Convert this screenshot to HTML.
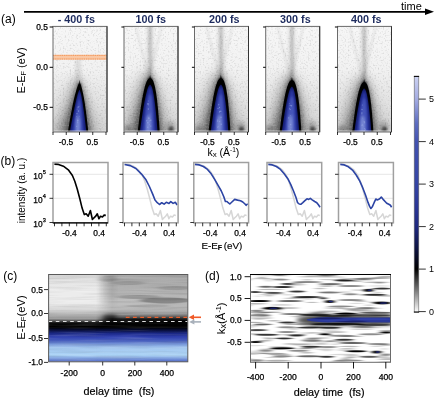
<!DOCTYPE html><html><head><meta charset="utf-8"><style>html,body{margin:0;padding:0;background:#fff;overflow:hidden}svg{display:block;opacity:0.999}</style></head><body><svg width="439" height="399" viewBox="0 0 439 399" font-family="'Liberation Sans', sans-serif">
<defs><filter color-interpolation-filters="sRGB" id="b6" x="-50%" y="-50%" width="200%" height="200%"><feGaussianBlur stdDeviation="6"/></filter>
<filter color-interpolation-filters="sRGB" id="b4" x="-50%" y="-50%" width="200%" height="200%"><feGaussianBlur stdDeviation="4"/></filter>
<filter color-interpolation-filters="sRGB" id="b2" x="-50%" y="-50%" width="200%" height="200%"><feGaussianBlur stdDeviation="2"/></filter>
<filter color-interpolation-filters="sRGB" id="b1" x="-50%" y="-50%" width="200%" height="200%"><feGaussianBlur stdDeviation="0.8"/></filter>
<filter color-interpolation-filters="sRGB" id="b05" x="-50%" y="-50%" width="200%" height="200%"><feGaussianBlur stdDeviation="0.5"/></filter>
<filter color-interpolation-filters="sRGB" id="bh" x="-50%" y="-50%" width="200%" height="200%"><feGaussianBlur stdDeviation="3 0.6"/></filter>
<filter color-interpolation-filters="sRGB" id="bh2" x="-50%" y="-50%" width="200%" height="200%"><feGaussianBlur stdDeviation="2.5 0.7"/></filter>
<linearGradient id="vdark" x1="0" x2="0" y1="0" y2="1"><stop offset="0" stop-color="#000" stop-opacity="0"/><stop offset="0.4" stop-color="#000" stop-opacity="0.02"/><stop offset="0.7" stop-color="#000" stop-opacity="0.08"/><stop offset="1" stop-color="#000" stop-opacity="0.15"/></linearGradient>
<filter color-interpolation-filters="sRGB" id="spk0" x="0" y="0" width="100%" height="100%"><feTurbulence type="fractalNoise" baseFrequency="0.6" numOctaves="1" seed="3"/><feColorMatrix type="matrix" values="0 0 0 0 0  0 0 0 0 0  0 0 0 0 0  -0.42 0 0 0 0.2"/></filter>
<filter color-interpolation-filters="sRGB" id="spkw0" x="0" y="0" width="100%" height="100%"><feTurbulence type="fractalNoise" baseFrequency="0.6" numOctaves="1" seed="5"/><feColorMatrix type="matrix" values="0 0 0 0 1  0 0 0 0 1  0 0 0 0 1  0.45 0 0 0 -0.21"/></filter>
<filter color-interpolation-filters="sRGB" id="spk1" x="0" y="0" width="100%" height="100%"><feTurbulence type="fractalNoise" baseFrequency="0.6" numOctaves="1" seed="10"/><feColorMatrix type="matrix" values="0 0 0 0 0  0 0 0 0 0  0 0 0 0 0  -0.42 0 0 0 0.2"/></filter>
<filter color-interpolation-filters="sRGB" id="spkw1" x="0" y="0" width="100%" height="100%"><feTurbulence type="fractalNoise" baseFrequency="0.6" numOctaves="1" seed="16"/><feColorMatrix type="matrix" values="0 0 0 0 1  0 0 0 0 1  0 0 0 0 1  0.45 0 0 0 -0.21"/></filter>
<filter color-interpolation-filters="sRGB" id="spk2" x="0" y="0" width="100%" height="100%"><feTurbulence type="fractalNoise" baseFrequency="0.6" numOctaves="1" seed="17"/><feColorMatrix type="matrix" values="0 0 0 0 0  0 0 0 0 0  0 0 0 0 0  -0.42 0 0 0 0.2"/></filter>
<filter color-interpolation-filters="sRGB" id="spkw2" x="0" y="0" width="100%" height="100%"><feTurbulence type="fractalNoise" baseFrequency="0.6" numOctaves="1" seed="27"/><feColorMatrix type="matrix" values="0 0 0 0 1  0 0 0 0 1  0 0 0 0 1  0.45 0 0 0 -0.21"/></filter>
<filter color-interpolation-filters="sRGB" id="strk" x="0" y="0" width="100%" height="100%"><feTurbulence type="fractalNoise" baseFrequency="0.02 0.45" numOctaves="2" seed="9"/><feColorMatrix type="matrix" values="0 0 0 0 0  0 0 0 0 0  0 0 0 0 0  -2.5 0 0 0 1.45"/></filter>
<filter color-interpolation-filters="sRGB" id="strkw" x="0" y="0" width="100%" height="100%"><feTurbulence type="fractalNoise" baseFrequency="0.02 0.45" numOctaves="2" seed="21"/><feColorMatrix type="matrix" values="0 0 0 0 1  0 0 0 0 1  0 0 0 0 1  2.5 0 0 0 -1.1"/></filter>
<linearGradient id="blueH" x1="0" x2="1" y1="0" y2="0"><stop offset="0" stop-color="#2430a0"/><stop offset="0.5" stop-color="#4a5ad0"/><stop offset="1" stop-color="#2430a0"/></linearGradient>
<clipPath id="ca0"><rect x="53" y="26.4" width="54" height="105.6"/></clipPath>
<clipPath id="ca1"><rect x="124" y="26.4" width="54" height="105.6"/></clipPath>
<clipPath id="ca2"><rect x="194.5" y="26.4" width="54" height="105.6"/></clipPath>
<clipPath id="ca3"><rect x="265.7" y="26.4" width="54" height="105.6"/></clipPath>
<clipPath id="ca4"><rect x="337.5" y="26.4" width="54" height="105.6"/></clipPath>
<linearGradient id="cbar" x1="0" x2="0" y1="0" y2="1"><stop offset="0" stop-color="#ccd2f2"/><stop offset="0.097" stop-color="#a4ace2"/><stop offset="0.2" stop-color="#5c6cc0"/><stop offset="0.277" stop-color="#4252b0"/><stop offset="0.457" stop-color="#3444a4"/><stop offset="0.55" stop-color="#2a3696"/><stop offset="0.637" stop-color="#1e2880"/><stop offset="0.727" stop-color="#0e1444"/><stop offset="0.817" stop-color="#000"/><stop offset="0.906" stop-color="#777"/><stop offset="1" stop-color="#fff"/></linearGradient>
<clipPath id="cc"><rect x="48.6" y="274.5" width="139.20000000000002" height="87.30000000000001"/></clipPath>
<linearGradient id="cLeft" x1="0" x2="0" y1="274.5" y2="361.8" gradientUnits="userSpaceOnUse"><stop offset="0" stop-color="#d4d4d4"/><stop offset="0.086" stop-color="#e4e4e4"/><stop offset="0.178" stop-color="#ececec"/><stop offset="0.33" stop-color="#ececec"/><stop offset="0.4" stop-color="#d8d8d8"/><stop offset="0.45" stop-color="#b8b8b8"/><stop offset="0.51" stop-color="#909090"/><stop offset="0.535" stop-color="#505050"/><stop offset="0.55" stop-color="#202020"/><stop offset="0.565" stop-color="#050505"/><stop offset="0.605" stop-color="#000"/><stop offset="0.64" stop-color="#0a1040"/><stop offset="0.675" stop-color="#1c2a8a"/><stop offset="0.715" stop-color="#3040b0"/><stop offset="0.765" stop-color="#4c64c0"/><stop offset="0.8" stop-color="#7c9cdc"/><stop offset="0.84" stop-color="#a4c8f0"/><stop offset="0.925" stop-color="#acd4f6"/><stop offset="0.96" stop-color="#80a0de"/><stop offset="1" stop-color="#5068c8"/></linearGradient>
<linearGradient id="cRight" x1="0" x2="0" y1="274.5" y2="361.8" gradientUnits="userSpaceOnUse"><stop offset="0" stop-color="#a8a8a8"/><stop offset="0.2" stop-color="#b2b2b2"/><stop offset="0.35" stop-color="#bcbcbc"/><stop offset="0.42" stop-color="#b0b0b0"/><stop offset="0.46" stop-color="#8a8a8a"/><stop offset="0.49" stop-color="#505050"/><stop offset="0.51" stop-color="#181818"/><stop offset="0.53" stop-color="#000"/><stop offset="0.544" stop-color="#050505"/><stop offset="0.605" stop-color="#000"/><stop offset="0.64" stop-color="#0a1040"/><stop offset="0.675" stop-color="#1c2a8a"/><stop offset="0.715" stop-color="#3040b0"/><stop offset="0.765" stop-color="#4c64c0"/><stop offset="0.8" stop-color="#7c9cdc"/><stop offset="0.84" stop-color="#a4c8f0"/><stop offset="0.925" stop-color="#acd4f6"/><stop offset="0.96" stop-color="#80a0de"/><stop offset="1" stop-color="#5068c8"/></linearGradient>
<linearGradient id="cMask" x1="96" x2="112" y1="0" y2="0" gradientUnits="userSpaceOnUse"><stop offset="0" stop-color="#000"/><stop offset="1" stop-color="#fff"/></linearGradient>
<mask id="cm"><rect x="48.6" y="274.5" width="139.20000000000002" height="87.30000000000001" fill="url(#cMask)"/></mask>
<clipPath id="cd"><rect x="250.5" y="274.5" width="140.0" height="87.80000000000001"/></clipPath></defs>
<rect width="439" height="399" fill="#fff"/>
<line x1="24" y1="11.9" x2="427" y2="11.9" stroke="#000" stroke-width="1.7"/>
<polygon points="425,8.6 434,11.8 425,15.1" fill="#000"/>
<text x="401" y="10" font-size="11">time</text>
<text x="1" y="22.5" font-size="12">(a)</text>
<text x="76.3" y="22.9" font-size="10.8" font-weight="bold" fill="#1d2b5e" text-anchor="middle">- 400 fs</text>
<g clip-path="url(#ca0)">
<rect x="53" y="26.4" width="54" height="105.6" fill="#f6f6f6"/>
<rect x="53" y="26.4" width="54" height="105.6" fill="url(#vdark)"/>
<rect x="76.1" y="59.400000000000006" width="4" height="24" fill="#000" opacity="0.14" filter="url(#b2)"/>
<path d="M49.53,140.00 L50.77,135.78 L52.00,131.68 L53.20,127.71 L54.40,123.86 L55.58,120.14 L56.74,116.55 L57.89,113.08 L59.03,109.74 L60.14,106.54 L61.24,103.47 L62.32,100.53 L63.38,97.72 L64.43,95.05 L65.45,92.53 L66.45,90.14 L67.43,87.89 L68.39,85.79 L69.32,83.84 L70.22,82.03 L71.10,80.38 L71.94,78.89 L72.76,77.56 L73.53,76.40 L74.27,75.41 L74.95,74.60 L75.57,73.98 L76.12,73.57 L76.50,73.40 L76.88,73.57 L77.40,73.98 L77.99,74.60 L78.64,75.41 L79.32,76.40 L80.04,77.56 L80.79,78.89 L81.57,80.38 L82.37,82.03 L83.18,83.84 L84.02,85.79 L84.88,87.89 L85.75,90.14 L86.64,92.53 L87.54,95.05 L88.46,97.72 L89.38,100.53 L90.32,103.47 L91.28,106.54 L92.24,109.74 L93.21,113.08 L94.19,116.55 L95.19,120.14 L96.19,123.86 L97.20,127.71 L98.22,131.68 L99.25,135.78 L100.28,140.00 Z" fill="#000" opacity="0.1" filter="url(#b6)"/>
<path d="M59.09,140.00 L59.96,136.10 L60.83,132.31 L61.69,128.63 L62.53,125.07 L63.36,121.63 L64.19,118.31 L65.00,115.10 L65.80,112.02 L66.58,109.05 L67.36,106.21 L68.12,103.49 L68.86,100.90 L69.59,98.43 L70.31,96.09 L71.01,93.88 L71.70,91.80 L72.37,89.86 L73.02,88.05 L73.65,86.39 L74.26,84.86 L74.85,83.48 L75.41,82.25 L75.95,81.17 L76.46,80.26 L76.93,79.51 L77.36,78.93 L77.74,78.55 L78.00,78.40 L78.26,78.55 L78.61,78.93 L79.01,79.51 L79.44,80.26 L79.90,81.17 L80.38,82.25 L80.88,83.48 L81.40,84.86 L81.93,86.39 L82.48,88.05 L83.03,89.86 L83.60,91.80 L84.18,93.88 L84.76,96.09 L85.36,98.43 L85.96,100.90 L86.57,103.49 L87.19,106.21 L87.82,109.05 L88.45,112.02 L89.09,115.10 L89.73,118.31 L90.38,121.63 L91.03,125.07 L91.69,128.63 L92.35,132.31 L93.02,136.10 L93.70,140.00 Z" fill="#000" opacity="0.28" filter="url(#b4)"/>
<path d="M63.50,140.00 L64.24,136.29 L64.96,132.68 L65.68,129.19 L66.38,125.80 L67.08,122.53 L67.76,119.36 L68.44,116.31 L69.10,113.38 L69.76,110.56 L70.40,107.85 L71.03,105.27 L71.65,102.80 L72.26,100.45 L72.86,98.23 L73.44,96.13 L74.01,94.15 L74.56,92.30 L75.10,90.58 L75.62,89.00 L76.13,87.55 L76.61,86.23 L77.08,85.06 L77.52,84.04 L77.94,83.16 L78.33,82.45 L78.68,81.91 L78.98,81.55 L79.20,81.40 L79.41,81.55 L79.69,81.91 L80.01,82.45 L80.36,83.16 L80.73,84.04 L81.12,85.06 L81.52,86.23 L81.93,87.55 L82.36,89.00 L82.79,90.58 L83.24,92.30 L83.69,94.15 L84.15,96.13 L84.61,98.23 L85.08,100.45 L85.56,102.80 L86.05,105.27 L86.53,107.85 L87.03,110.56 L87.53,113.38 L88.03,116.31 L88.54,119.36 L89.05,122.53 L89.56,125.80 L90.08,129.19 L90.60,132.68 L91.13,136.29 L91.65,140.00 Z" fill="#000" opacity="0.36" filter="url(#b2)"/>
<path d="M66.89999999999999,134 L75.1,101.4 L55.89999999999999,134 Z" fill="#000" opacity="0.14" filter="url(#b4)"/>
<rect x="53" y="26.4" width="54" height="105.6" filter="url(#spk0)"/>
<rect x="53" y="26.4" width="54" height="105.6" filter="url(#spkw0)"/>
<path d="M66.66,140.00 L67.21,136.41 L67.75,132.93 L68.29,129.56 L68.83,126.29 L69.35,123.12 L69.88,120.07 L70.40,117.12 L70.91,114.29 L71.42,111.56 L71.92,108.95 L72.41,106.45 L72.90,104.07 L73.38,101.80 L73.86,99.65 L74.33,97.62 L74.79,95.72 L75.24,93.93 L75.69,92.27 L76.13,90.74 L76.56,89.34 L76.98,88.07 L77.39,86.94 L77.79,85.95 L78.17,85.10 L78.54,84.42 L78.90,83.89 L79.22,83.54 L79.50,83.40 L79.77,83.54 L80.08,83.89 L80.40,84.42 L80.73,85.10 L81.07,85.95 L81.41,86.94 L81.75,88.07 L82.10,89.34 L82.45,90.74 L82.80,92.27 L83.15,93.93 L83.50,95.72 L83.85,97.62 L84.20,99.65 L84.56,101.80 L84.91,104.07 L85.26,106.45 L85.61,108.95 L85.96,111.56 L86.31,114.29 L86.66,117.12 L87.01,120.07 L87.36,123.12 L87.70,126.29 L88.05,129.56 L88.39,132.93 L88.74,136.41 L89.08,140.00 Z" fill="#000" filter="url(#b05)"/>
<path d="M68.37,140.00 L68.94,136.81 L69.49,133.71 L70.04,130.70 L70.57,127.79 L71.10,124.97 L71.62,122.25 L72.12,119.63 L72.62,117.10 L73.10,114.68 L73.58,112.35 L74.04,110.13 L74.49,108.01 L74.93,105.99 L75.36,104.07 L75.77,102.27 L76.17,100.57 L76.55,98.98 L76.92,97.50 L77.28,96.13 L77.62,94.89 L77.94,93.76 L78.25,92.75 L78.53,91.87 L78.79,91.12 L79.02,90.50 L79.23,90.04 L79.40,89.73 L79.50,89.60 L79.60,89.73 L79.74,90.04 L79.92,90.50 L80.11,91.12 L80.32,91.87 L80.55,92.75 L80.78,93.76 L81.03,94.89 L81.29,96.13 L81.55,97.50 L81.83,98.98 L82.11,100.57 L82.40,102.27 L82.69,104.07 L82.99,105.99 L83.29,108.01 L83.60,110.13 L83.92,112.35 L84.24,114.68 L84.57,117.10 L84.89,119.63 L85.23,122.25 L85.56,124.97 L85.90,127.79 L86.25,130.70 L86.60,133.71 L86.95,136.81 L87.30,140.00 Z" fill="#141c70" filter="url(#b05)"/>
<path d="M70.57,140.00 L71.03,136.98 L71.48,134.06 L71.92,131.22 L72.36,128.47 L72.78,125.81 L73.20,123.24 L73.61,120.76 L74.01,118.38 L74.40,116.09 L74.78,113.89 L75.15,111.79 L75.52,109.78 L75.87,107.88 L76.21,106.07 L76.54,104.36 L76.86,102.76 L77.17,101.26 L77.46,99.86 L77.75,98.57 L78.02,97.39 L78.27,96.33 L78.51,95.37 L78.74,94.54 L78.94,93.83 L79.13,93.25 L79.29,92.81 L79.42,92.52 L79.50,92.40 L79.57,92.52 L79.68,92.81 L79.81,93.25 L79.96,93.83 L80.11,94.54 L80.28,95.37 L80.45,96.33 L80.63,97.39 L80.82,98.57 L81.01,99.86 L81.21,101.26 L81.41,102.76 L81.61,104.36 L81.82,106.07 L82.04,107.88 L82.26,109.78 L82.48,111.79 L82.70,113.89 L82.93,116.09 L83.15,118.38 L83.39,120.76 L83.62,123.24 L83.86,125.81 L84.09,128.47 L84.33,131.22 L84.57,134.06 L84.82,136.98 L85.06,140.00 Z" fill="#2c39a4" filter="url(#b1)"/>
<path d="M72.98,140.00 L73.30,137.43 L73.62,134.93 L73.93,132.51 L74.24,130.16 L74.55,127.89 L74.84,125.70 L75.13,123.59 L75.42,121.56 L75.70,119.60 L75.97,117.73 L76.24,115.94 L76.50,114.23 L76.76,112.60 L77.00,111.06 L77.24,109.60 L77.48,108.23 L77.70,106.95 L77.92,105.76 L78.13,104.66 L78.33,103.66 L78.52,102.75 L78.70,101.94 L78.88,101.23 L79.04,100.62 L79.18,100.13 L79.31,99.75 L79.42,99.50 L79.50,99.40 L79.57,99.50 L79.66,99.75 L79.76,100.13 L79.86,100.62 L79.97,101.23 L80.08,101.94 L80.19,102.75 L80.30,103.66 L80.42,104.66 L80.53,105.76 L80.65,106.95 L80.76,108.23 L80.88,109.60 L81.00,111.06 L81.11,112.60 L81.23,114.23 L81.34,115.94 L81.45,117.73 L81.57,119.60 L81.68,121.56 L81.79,123.59 L81.90,125.70 L82.01,127.89 L82.12,130.16 L82.22,132.51 L82.33,134.93 L82.43,137.43 L82.54,140.00 Z" fill="#4c5cbe" opacity="0.85" filter="url(#b1)"/>
<path d="M74.21,140.00 L74.49,138.57 L74.76,137.18 L75.03,135.83 L75.29,134.52 L75.54,133.26 L75.79,132.04 L76.04,130.87 L76.27,129.73 L76.51,128.65 L76.73,127.60 L76.95,126.61 L77.17,125.65 L77.37,124.75 L77.57,123.89 L77.77,123.08 L77.95,122.32 L78.13,121.60 L78.31,120.94 L78.47,120.33 L78.63,119.77 L78.78,119.26 L78.92,118.81 L79.05,118.42 L79.17,118.08 L79.27,117.81 L79.37,117.60 L79.45,117.46 L79.50,117.40 L79.54,117.46 L79.59,117.60 L79.65,117.81 L79.70,118.08 L79.76,118.42 L79.81,118.81 L79.87,119.26 L79.92,119.77 L79.97,120.33 L80.01,120.94 L80.06,121.60 L80.10,122.32 L80.14,123.08 L80.18,123.89 L80.22,124.75 L80.25,125.65 L80.28,126.61 L80.31,127.60 L80.34,128.65 L80.36,129.73 L80.38,130.87 L80.40,132.04 L80.42,133.26 L80.43,134.52 L80.44,135.83 L80.45,137.18 L80.45,138.57 L80.46,140.00 Z" fill="#7484d4" opacity="0.6" filter="url(#b1)"/>
<ellipse cx="77.6" cy="124" rx="2.2" ry="9" fill="#8e9ee0" opacity="0.55" filter="url(#b1)"/>
<path d="M77.9,86.4 L79.5,79.9 L81.1,86.4 Z" fill="#000" opacity="0.7" filter="url(#b05)"/>
<ellipse cx="79.5" cy="86.4" rx="1.4" ry="3" fill="#000" filter="url(#b1)"/>
<circle cx="77.0" cy="113.7" r="0.66" fill="#98a8e4" opacity="0.6"/>
<circle cx="78.2" cy="107.3" r="0.55" fill="#98a8e4" opacity="0.6"/>
<circle cx="78.1" cy="106.9" r="0.41" fill="#98a8e4" opacity="0.6"/>
<circle cx="76.7" cy="116.5" r="0.44" fill="#98a8e4" opacity="0.6"/>
<circle cx="79.2" cy="116.3" r="0.45" fill="#98a8e4" opacity="0.6"/>
<circle cx="78.5" cy="111.1" r="0.78" fill="#98a8e4" opacity="0.6"/>
<circle cx="77.7" cy="120.2" r="0.79" fill="#98a8e4" opacity="0.6"/>
<circle cx="78.9" cy="106.6" r="0.52" fill="#98a8e4" opacity="0.6"/>
<circle cx="77.1" cy="109.1" r="0.52" fill="#98a8e4" opacity="0.6"/>
<circle cx="76.7" cy="126.3" r="0.63" fill="#98a8e4" opacity="0.6"/>
<circle cx="77.6" cy="121.8" r="0.62" fill="#98a8e4" opacity="0.6"/>
<circle cx="77.1" cy="107.0" r="0.48" fill="#98a8e4" opacity="0.6"/>
<circle cx="77.8" cy="122.8" r="0.53" fill="#98a8e4" opacity="0.6"/>
<circle cx="77.9" cy="120.4" r="0.52" fill="#98a8e4" opacity="0.6"/>
<rect x="53" y="54.8" width="54" height="4.8" fill="#f8b88c"/>
<rect x="53" y="55.9" width="54" height="2.6" fill="#fac8a4"/>
<line x1="53" y1="55.4" x2="107" y2="55.4" stroke="#f29a60" stroke-width="1" stroke-dasharray="1.2 1"/>
<line x1="53" y1="59.0" x2="107" y2="59.0" stroke="#f29a60" stroke-width="1" stroke-dasharray="1.2 1"/>
<line x1="53" y1="131.1" x2="107" y2="131.1" stroke="#e8e8e8" stroke-width="0.9"/>
</g>
<rect x="53" y="26.4" width="54" height="105.6" fill="none" stroke="#6a6a6a" stroke-width="1"/>
<line x1="107" y1="26.4" x2="107" y2="132" stroke="#333" stroke-width="1"/>
<line x1="49.6" y1="27.0" x2="53" y2="27.0" stroke="#000" stroke-width="1"/>
<line x1="49.6" y1="67.3" x2="53" y2="67.3" stroke="#000" stroke-width="1"/>
<line x1="49.6" y1="107.3" x2="53" y2="107.3" stroke="#000" stroke-width="1"/>
<line x1="53.0" y1="132" x2="53.0" y2="135" stroke="#000" stroke-width="0.8"/>
<line x1="66.25" y1="132" x2="66.25" y2="135" stroke="#000" stroke-width="0.8"/>
<line x1="79.5" y1="132" x2="79.5" y2="135" stroke="#000" stroke-width="0.8"/>
<line x1="92.75" y1="132" x2="92.75" y2="135" stroke="#000" stroke-width="0.8"/>
<line x1="106.0" y1="132" x2="106.0" y2="135" stroke="#000" stroke-width="0.8"/>
<text x="66.0" y="144.8" font-size="8.4" stroke="#000" stroke-width="0.25" text-anchor="middle">-0.5</text>
<text x="92.4" y="144.8" font-size="8.4" stroke="#000" stroke-width="0.25" text-anchor="middle">0.5</text>
<text x="150.8" y="22.9" font-size="10.8" font-weight="bold" fill="#1d2b5e" text-anchor="middle">100 fs</text>
<g clip-path="url(#ca1)">
<rect x="124" y="26.4" width="54" height="105.6" fill="#f6f6f6"/>
<rect x="124" y="26.4" width="54" height="105.6" fill="url(#vdark)"/>
<rect x="147.1" y="21.4" width="6" height="56.9" fill="#000" opacity="0.1" filter="url(#b2)"/>
<rect x="148.5" y="21.4" width="3.2" height="56.9" fill="#000" opacity="0.14" filter="url(#b1)"/>
<path d="M148.7,78.3 L135.7,26.4 M148.7,78.3 L161.7,26.4" stroke="#000" stroke-width="2.5" opacity="0.06" filter="url(#b1)"/>
<path d="M120.06,140.00 L120.98,135.46 L121.90,131.05 L122.82,126.77 L123.74,122.63 L124.66,118.62 L125.58,114.75 L126.51,111.02 L127.43,107.43 L128.35,103.98 L129.28,100.67 L130.21,97.50 L131.14,94.48 L132.07,91.61 L133.00,88.89 L133.94,86.32 L134.88,83.90 L135.82,81.64 L136.77,79.54 L137.73,77.60 L138.69,75.82 L139.66,74.21 L140.64,72.78 L141.63,71.53 L142.63,70.46 L143.66,69.59 L144.72,68.92 L145.83,68.48 L147.10,68.30 L148.37,68.48 L149.45,68.92 L150.48,69.59 L151.47,70.46 L152.43,71.53 L153.37,72.78 L154.28,74.21 L155.18,75.82 L156.06,77.60 L156.93,79.54 L157.79,81.64 L158.63,83.90 L159.47,86.32 L160.29,88.89 L161.11,91.61 L161.91,94.48 L162.71,97.50 L163.50,100.67 L164.28,103.98 L165.05,107.43 L165.82,111.02 L166.57,114.75 L167.33,118.62 L168.07,122.63 L168.81,126.77 L169.54,131.05 L170.27,135.46 L170.99,140.00 Z" fill="#000" opacity="0.1" filter="url(#b6)"/>
<path d="M129.42,140.00 L130.09,135.77 L130.75,131.67 L131.42,127.69 L132.08,123.84 L132.75,120.11 L133.41,116.51 L134.08,113.04 L134.74,109.70 L135.40,106.49 L136.06,103.41 L136.73,100.47 L137.39,97.66 L138.05,94.99 L138.72,92.45 L139.38,90.06 L140.05,87.81 L140.72,85.71 L141.39,83.75 L142.06,81.95 L142.74,80.30 L143.42,78.80 L144.10,77.47 L144.80,76.30 L145.50,75.31 L146.22,74.50 L146.95,73.88 L147.72,73.47 L148.60,73.30 L149.47,73.47 L150.22,73.88 L150.93,74.50 L151.60,75.31 L152.26,76.30 L152.90,77.47 L153.52,78.80 L154.13,80.30 L154.73,81.95 L155.31,83.75 L155.89,85.71 L156.46,87.81 L157.02,90.06 L157.57,92.45 L158.11,94.99 L158.65,97.66 L159.18,100.47 L159.70,103.41 L160.22,106.49 L160.72,109.70 L161.23,113.04 L161.73,116.51 L162.22,120.11 L162.70,123.84 L163.19,127.69 L163.66,131.67 L164.13,135.77 L164.60,140.00 Z" fill="#000" opacity="0.28" filter="url(#b4)"/>
<path d="M133.76,140.00 L134.33,135.96 L134.89,132.05 L135.46,128.25 L136.02,124.57 L136.58,121.01 L137.14,117.57 L137.70,114.25 L138.26,111.06 L138.82,108.00 L139.38,105.06 L139.93,102.25 L140.49,99.56 L141.05,97.01 L141.60,94.59 L142.16,92.31 L142.72,90.16 L143.28,88.15 L143.83,86.28 L144.39,84.56 L144.96,82.98 L145.52,81.55 L146.09,80.28 L146.67,79.17 L147.25,78.22 L147.84,77.44 L148.44,76.85 L149.08,76.46 L149.80,76.30 L150.52,76.46 L151.13,76.85 L151.71,77.44 L152.26,78.22 L152.79,79.17 L153.31,80.28 L153.81,81.55 L154.31,82.98 L154.79,84.56 L155.26,86.28 L155.73,88.15 L156.19,90.16 L156.64,92.31 L157.08,94.59 L157.51,97.01 L157.94,99.56 L158.36,102.25 L158.78,105.06 L159.19,108.00 L159.59,111.06 L159.99,114.25 L160.38,117.57 L160.77,121.01 L161.15,124.57 L161.53,128.25 L161.90,132.05 L162.27,135.96 L162.64,140.00 Z" fill="#000" opacity="0.36" filter="url(#b2)"/>
<path d="M136.7,134 L145.7,96.3 L125.69999999999999,134 Z" fill="#000" opacity="0.14" filter="url(#b4)"/>
<rect x="124" y="26.4" width="54" height="105.6" filter="url(#spk1)"/>
<rect x="124" y="26.4" width="54" height="105.6" filter="url(#spkw1)"/>
<path d="M136.83,140.00 L137.25,136.09 L137.67,132.29 L138.09,128.61 L138.50,125.05 L138.92,121.60 L139.34,118.27 L139.76,115.06 L140.18,111.97 L140.60,109.00 L141.02,106.15 L141.45,103.43 L141.87,100.83 L142.30,98.36 L142.73,96.02 L143.17,93.81 L143.60,91.73 L144.05,89.78 L144.49,87.97 L144.95,86.30 L145.41,84.77 L145.88,83.39 L146.36,82.16 L146.86,81.08 L147.37,80.16 L147.92,79.41 L148.50,78.83 L149.16,78.45 L150.10,78.30 L151.04,78.45 L151.67,78.83 L152.23,79.41 L152.73,80.16 L153.20,81.08 L153.64,82.16 L154.06,83.39 L154.45,84.77 L154.84,86.30 L155.20,87.97 L155.55,89.78 L155.90,91.73 L156.22,93.81 L156.54,96.02 L156.85,98.36 L157.15,100.83 L157.44,103.43 L157.72,106.15 L158.00,109.00 L158.26,111.97 L158.52,115.06 L158.78,118.27 L159.02,121.60 L159.26,125.05 L159.49,128.61 L159.72,132.29 L159.94,136.09 L160.15,140.00 Z" fill="#000" filter="url(#b05)"/>
<path d="M138.81,140.00 L139.26,136.48 L139.71,133.07 L140.15,129.76 L140.59,126.55 L141.03,123.45 L141.47,120.46 L141.90,117.57 L142.33,114.79 L142.75,112.12 L143.18,109.56 L143.59,107.11 L144.01,104.77 L144.42,102.55 L144.83,100.44 L145.23,98.45 L145.63,96.58 L146.03,94.83 L146.42,93.20 L146.81,91.70 L147.20,90.32 L147.58,89.08 L147.95,87.97 L148.33,87.00 L148.69,86.17 L149.05,85.50 L149.41,84.98 L149.76,84.64 L150.10,84.50 L150.43,84.64 L150.76,84.98 L151.09,85.50 L151.41,86.17 L151.73,87.00 L152.04,87.97 L152.35,89.08 L152.66,90.32 L152.96,91.70 L153.26,93.20 L153.56,94.83 L153.85,96.58 L154.14,98.45 L154.43,100.44 L154.72,102.55 L155.00,104.77 L155.27,107.11 L155.55,109.56 L155.82,112.12 L156.09,114.79 L156.35,117.57 L156.61,120.46 L156.87,123.45 L157.13,126.55 L157.38,129.76 L157.63,133.07 L157.88,136.48 L158.12,140.00 Z" fill="#141c70" filter="url(#b05)"/>
<path d="M140.94,140.00 L141.31,136.66 L141.68,133.42 L142.05,130.28 L142.42,127.23 L142.78,124.29 L143.14,121.44 L143.50,118.70 L143.85,116.06 L144.20,113.52 L144.54,111.09 L144.89,108.77 L145.22,106.55 L145.56,104.44 L145.89,102.43 L146.22,100.54 L146.54,98.77 L146.86,97.10 L147.18,95.56 L147.49,94.13 L147.80,92.83 L148.11,91.65 L148.41,90.59 L148.70,89.67 L148.99,88.89 L149.28,88.25 L149.56,87.76 L149.83,87.43 L150.10,87.30 L150.36,87.43 L150.61,87.76 L150.86,88.25 L151.11,88.89 L151.35,89.67 L151.59,90.59 L151.82,91.65 L152.05,92.83 L152.28,94.13 L152.50,95.56 L152.72,97.10 L152.94,98.77 L153.15,100.54 L153.36,102.43 L153.57,104.44 L153.77,106.55 L153.97,108.77 L154.17,111.09 L154.36,113.52 L154.55,116.06 L154.74,118.70 L154.92,121.44 L155.10,124.29 L155.28,127.23 L155.45,130.28 L155.63,133.42 L155.80,136.66 L155.96,140.00 Z" fill="#2c39a4" filter="url(#b1)"/>
<path d="M143.28,140.00 L143.56,137.10 L143.83,134.29 L144.09,131.57 L144.36,128.93 L144.62,126.37 L144.88,123.91 L145.14,121.53 L145.39,119.24 L145.64,117.04 L145.89,114.93 L146.14,112.91 L146.39,110.99 L146.63,109.16 L146.87,107.42 L147.11,105.78 L147.34,104.24 L147.58,102.80 L147.81,101.46 L148.04,100.22 L148.26,99.09 L148.49,98.07 L148.71,97.16 L148.94,96.36 L149.16,95.68 L149.38,95.12 L149.61,94.70 L149.84,94.41 L150.10,94.30 L150.35,94.41 L150.56,94.70 L150.76,95.12 L150.94,95.68 L151.11,96.36 L151.27,97.16 L151.43,98.07 L151.58,99.09 L151.72,100.22 L151.86,101.46 L151.99,102.80 L152.12,104.24 L152.24,105.78 L152.36,107.42 L152.47,109.16 L152.57,110.99 L152.68,112.91 L152.77,114.93 L152.87,117.04 L152.96,119.24 L153.04,121.53 L153.12,123.91 L153.20,126.37 L153.27,128.93 L153.34,131.57 L153.40,134.29 L153.47,137.10 L153.52,140.00 Z" fill="#4c5cbe" opacity="0.85" filter="url(#b1)"/>
<path d="M144.75,140.00 L144.99,138.24 L145.22,136.54 L145.44,134.89 L145.67,133.29 L145.89,131.74 L146.10,130.25 L146.32,128.80 L146.53,127.42 L146.74,126.08 L146.94,124.81 L147.14,123.58 L147.34,122.42 L147.53,121.31 L147.72,120.25 L147.91,119.26 L148.10,118.33 L148.28,117.45 L148.45,116.64 L148.63,115.89 L148.80,115.21 L148.97,114.58 L149.13,114.03 L149.29,113.55 L149.45,113.13 L149.61,112.80 L149.77,112.54 L149.93,112.37 L150.10,112.30 L150.26,112.37 L150.40,112.54 L150.52,112.80 L150.63,113.13 L150.73,113.55 L150.82,114.03 L150.91,114.58 L150.99,115.21 L151.06,115.89 L151.13,116.64 L151.19,117.45 L151.25,118.33 L151.30,119.26 L151.35,120.25 L151.39,121.31 L151.42,122.42 L151.46,123.58 L151.48,124.81 L151.50,126.08 L151.52,127.42 L151.54,128.80 L151.54,130.25 L151.55,131.74 L151.55,133.29 L151.55,134.89 L151.54,136.54 L151.53,138.24 L151.51,140.00 Z" fill="#7484d4" opacity="0.6" filter="url(#b1)"/>
<ellipse cx="148.2" cy="124" rx="2.2" ry="9" fill="#8e9ee0" opacity="0.55" filter="url(#b1)"/>
<path d="M148.5,81.3 L150.1,74.8 L151.7,81.3 Z" fill="#000" opacity="0.7" filter="url(#b05)"/>
<ellipse cx="150.1" cy="81.3" rx="2.2" ry="3.5" fill="#000" filter="url(#b1)"/>
<circle cx="149.6" cy="124.7" r="0.50" fill="#98a8e4" opacity="0.6"/>
<circle cx="148.8" cy="117.9" r="0.75" fill="#98a8e4" opacity="0.6"/>
<circle cx="147.8" cy="122.7" r="0.79" fill="#98a8e4" opacity="0.6"/>
<circle cx="148.5" cy="103.9" r="0.70" fill="#98a8e4" opacity="0.6"/>
<circle cx="148.7" cy="105.0" r="0.42" fill="#98a8e4" opacity="0.6"/>
<circle cx="149.8" cy="120.8" r="0.63" fill="#98a8e4" opacity="0.6"/>
<circle cx="147.8" cy="127.2" r="0.68" fill="#98a8e4" opacity="0.6"/>
<circle cx="149.0" cy="118.5" r="0.58" fill="#98a8e4" opacity="0.6"/>
<circle cx="150.8" cy="126.1" r="0.59" fill="#98a8e4" opacity="0.6"/>
<circle cx="146.8" cy="120.7" r="0.68" fill="#98a8e4" opacity="0.6"/>
<circle cx="150.8" cy="120.2" r="0.73" fill="#98a8e4" opacity="0.6"/>
<circle cx="148.3" cy="109.0" r="0.67" fill="#98a8e4" opacity="0.6"/>
<circle cx="148.6" cy="101.0" r="0.47" fill="#98a8e4" opacity="0.6"/>
<circle cx="147.6" cy="103.9" r="0.71" fill="#98a8e4" opacity="0.6"/>
<ellipse cx="171" cy="129.5" rx="2.6" ry="3" fill="#000" opacity="0.55" filter="url(#b1)"/>
<ellipse cx="170.5" cy="127" rx="5" ry="6" fill="#000" opacity="0.2" filter="url(#b2)"/>
<ellipse cx="128" cy="129" rx="4" ry="3" fill="#000" opacity="0.3" filter="url(#b2)"/>
<line x1="124" y1="131.1" x2="178" y2="131.1" stroke="#e8e8e8" stroke-width="0.9"/>
</g>
<rect x="124" y="26.4" width="54" height="105.6" fill="none" stroke="#6a6a6a" stroke-width="1"/>
<line x1="178" y1="26.4" x2="178" y2="132" stroke="#333" stroke-width="1"/>
<line x1="121.4" y1="27.0" x2="124" y2="27.0" stroke="#000" stroke-width="1"/>
<line x1="121.4" y1="67.3" x2="124" y2="67.3" stroke="#000" stroke-width="1"/>
<line x1="121.4" y1="107.3" x2="124" y2="107.3" stroke="#000" stroke-width="1"/>
<line x1="124.0" y1="132" x2="124.0" y2="135" stroke="#000" stroke-width="0.8"/>
<line x1="137.25" y1="132" x2="137.25" y2="135" stroke="#000" stroke-width="0.8"/>
<line x1="150.5" y1="132" x2="150.5" y2="135" stroke="#000" stroke-width="0.8"/>
<line x1="163.75" y1="132" x2="163.75" y2="135" stroke="#000" stroke-width="0.8"/>
<line x1="177.0" y1="132" x2="177.0" y2="135" stroke="#000" stroke-width="0.8"/>
<text x="137.0" y="144.8" font-size="8.4" stroke="#000" stroke-width="0.25" text-anchor="middle">-0.5</text>
<text x="163.4" y="144.8" font-size="8.4" stroke="#000" stroke-width="0.25" text-anchor="middle">0.5</text>
<text x="224.3" y="22.9" font-size="10.8" font-weight="bold" fill="#1d2b5e" text-anchor="middle">200 fs</text>
<g clip-path="url(#ca2)">
<rect x="194.5" y="26.4" width="54" height="105.6" fill="#f6f6f6"/>
<rect x="194.5" y="26.4" width="54" height="105.6" fill="url(#vdark)"/>
<rect x="217.9" y="21.4" width="6" height="56.9" fill="#000" opacity="0.1" filter="url(#b2)"/>
<rect x="219.3" y="21.4" width="3.2" height="56.9" fill="#000" opacity="0.14" filter="url(#b1)"/>
<path d="M219.5,78.3 L206.5,26.4 M219.5,78.3 L232.5,26.4" stroke="#000" stroke-width="2.5" opacity="0.06" filter="url(#b1)"/>
<path d="M190.86,140.00 L191.78,135.46 L192.70,131.05 L193.62,126.77 L194.54,122.63 L195.46,118.62 L196.38,114.75 L197.31,111.02 L198.23,107.43 L199.15,103.98 L200.08,100.67 L201.01,97.50 L201.94,94.48 L202.87,91.61 L203.80,88.89 L204.74,86.32 L205.68,83.90 L206.62,81.64 L207.57,79.54 L208.53,77.60 L209.49,75.82 L210.46,74.21 L211.44,72.78 L212.43,71.53 L213.43,70.46 L214.46,69.59 L215.52,68.92 L216.63,68.48 L217.90,68.30 L219.17,68.48 L220.25,68.92 L221.28,69.59 L222.27,70.46 L223.23,71.53 L224.17,72.78 L225.08,74.21 L225.98,75.82 L226.86,77.60 L227.73,79.54 L228.59,81.64 L229.43,83.90 L230.27,86.32 L231.09,88.89 L231.91,91.61 L232.71,94.48 L233.51,97.50 L234.30,100.67 L235.08,103.98 L235.85,107.43 L236.62,111.02 L237.37,114.75 L238.13,118.62 L238.87,122.63 L239.61,126.77 L240.34,131.05 L241.07,135.46 L241.79,140.00 Z" fill="#000" opacity="0.1" filter="url(#b6)"/>
<path d="M200.22,140.00 L200.89,135.77 L201.55,131.67 L202.22,127.69 L202.88,123.84 L203.55,120.11 L204.21,116.51 L204.88,113.04 L205.54,109.70 L206.20,106.49 L206.86,103.41 L207.53,100.47 L208.19,97.66 L208.85,94.99 L209.52,92.45 L210.18,90.06 L210.85,87.81 L211.52,85.71 L212.19,83.75 L212.86,81.95 L213.54,80.30 L214.22,78.80 L214.90,77.47 L215.60,76.30 L216.30,75.31 L217.02,74.50 L217.75,73.88 L218.52,73.47 L219.40,73.30 L220.27,73.47 L221.02,73.88 L221.73,74.50 L222.40,75.31 L223.06,76.30 L223.70,77.47 L224.32,78.80 L224.93,80.30 L225.53,81.95 L226.11,83.75 L226.69,85.71 L227.26,87.81 L227.82,90.06 L228.37,92.45 L228.91,94.99 L229.45,97.66 L229.98,100.47 L230.50,103.41 L231.02,106.49 L231.52,109.70 L232.03,113.04 L232.53,116.51 L233.02,120.11 L233.50,123.84 L233.99,127.69 L234.46,131.67 L234.93,135.77 L235.40,140.00 Z" fill="#000" opacity="0.28" filter="url(#b4)"/>
<path d="M204.56,140.00 L205.13,135.96 L205.69,132.05 L206.26,128.25 L206.82,124.57 L207.38,121.01 L207.94,117.57 L208.50,114.25 L209.06,111.06 L209.62,108.00 L210.18,105.06 L210.73,102.25 L211.29,99.56 L211.85,97.01 L212.40,94.59 L212.96,92.31 L213.52,90.16 L214.08,88.15 L214.63,86.28 L215.19,84.56 L215.76,82.98 L216.32,81.55 L216.89,80.28 L217.47,79.17 L218.05,78.22 L218.64,77.44 L219.24,76.85 L219.88,76.46 L220.60,76.30 L221.32,76.46 L221.93,76.85 L222.51,77.44 L223.06,78.22 L223.59,79.17 L224.11,80.28 L224.61,81.55 L225.11,82.98 L225.59,84.56 L226.06,86.28 L226.53,88.15 L226.99,90.16 L227.44,92.31 L227.88,94.59 L228.31,97.01 L228.74,99.56 L229.16,102.25 L229.58,105.06 L229.99,108.00 L230.39,111.06 L230.79,114.25 L231.18,117.57 L231.57,121.01 L231.95,124.57 L232.33,128.25 L232.70,132.05 L233.07,135.96 L233.44,140.00 Z" fill="#000" opacity="0.36" filter="url(#b2)"/>
<path d="M207.5,134 L216.5,96.3 L196.5,134 Z" fill="#000" opacity="0.14" filter="url(#b4)"/>
<rect x="194.5" y="26.4" width="54" height="105.6" filter="url(#spk2)"/>
<rect x="194.5" y="26.4" width="54" height="105.6" filter="url(#spkw2)"/>
<path d="M207.63,140.00 L208.05,136.09 L208.47,132.29 L208.89,128.61 L209.30,125.05 L209.72,121.60 L210.14,118.27 L210.56,115.06 L210.98,111.97 L211.40,109.00 L211.82,106.15 L212.25,103.43 L212.67,100.83 L213.10,98.36 L213.53,96.02 L213.97,93.81 L214.40,91.73 L214.85,89.78 L215.29,87.97 L215.75,86.30 L216.21,84.77 L216.68,83.39 L217.16,82.16 L217.66,81.08 L218.17,80.16 L218.72,79.41 L219.30,78.83 L219.96,78.45 L220.90,78.30 L221.84,78.45 L222.47,78.83 L223.03,79.41 L223.53,80.16 L224.00,81.08 L224.44,82.16 L224.86,83.39 L225.25,84.77 L225.64,86.30 L226.00,87.97 L226.35,89.78 L226.70,91.73 L227.02,93.81 L227.34,96.02 L227.65,98.36 L227.95,100.83 L228.24,103.43 L228.52,106.15 L228.80,109.00 L229.06,111.97 L229.32,115.06 L229.58,118.27 L229.82,121.60 L230.06,125.05 L230.29,128.61 L230.52,132.29 L230.74,136.09 L230.95,140.00 Z" fill="#000" filter="url(#b05)"/>
<path d="M209.66,140.00 L210.11,136.48 L210.56,133.07 L211.00,129.76 L211.44,126.55 L211.88,123.45 L212.31,120.46 L212.74,117.57 L213.17,114.79 L213.59,112.12 L214.01,109.56 L214.43,107.11 L214.84,104.77 L215.25,102.55 L215.66,100.44 L216.06,98.45 L216.46,96.58 L216.85,94.83 L217.24,93.20 L217.63,91.70 L218.01,90.32 L218.39,89.08 L218.77,87.97 L219.14,87.00 L219.50,86.17 L219.86,85.50 L220.21,84.98 L220.56,84.64 L220.90,84.50 L221.23,84.64 L221.56,84.98 L221.88,85.50 L222.20,86.17 L222.52,87.00 L222.83,87.97 L223.14,89.08 L223.44,90.32 L223.75,91.70 L224.04,93.20 L224.34,94.83 L224.63,96.58 L224.92,98.45 L225.20,100.44 L225.49,102.55 L225.76,104.77 L226.04,107.11 L226.31,109.56 L226.58,112.12 L226.85,114.79 L227.11,117.57 L227.37,120.46 L227.63,123.45 L227.88,126.55 L228.13,129.76 L228.38,133.07 L228.62,136.48 L228.87,140.00 Z" fill="#141c70" filter="url(#b05)"/>
<path d="M211.79,140.00 L212.17,136.66 L212.54,133.42 L212.90,130.28 L213.27,127.23 L213.63,124.29 L213.98,121.44 L214.34,118.70 L214.69,116.06 L215.03,113.52 L215.38,111.09 L215.72,108.77 L216.06,106.55 L216.39,104.44 L216.72,102.43 L217.04,100.54 L217.37,98.77 L217.69,97.10 L218.00,95.56 L218.31,94.13 L218.62,92.83 L218.92,91.65 L219.22,90.59 L219.51,89.67 L219.80,88.89 L220.09,88.25 L220.36,87.76 L220.64,87.43 L220.90,87.30 L221.16,87.43 L221.41,87.76 L221.66,88.25 L221.90,88.89 L222.14,89.67 L222.38,90.59 L222.61,91.65 L222.84,92.83 L223.06,94.13 L223.28,95.56 L223.50,97.10 L223.72,98.77 L223.93,100.54 L224.13,102.43 L224.34,104.44 L224.54,106.55 L224.74,108.77 L224.93,111.09 L225.12,113.52 L225.31,116.06 L225.50,118.70 L225.68,121.44 L225.86,124.29 L226.03,127.23 L226.21,130.28 L226.38,133.42 L226.54,136.66 L226.71,140.00 Z" fill="#2c39a4" filter="url(#b1)"/>
<path d="M214.14,140.00 L214.41,137.10 L214.68,134.29 L214.94,131.57 L215.21,128.93 L215.47,126.37 L215.72,123.91 L215.98,121.53 L216.23,119.24 L216.48,117.04 L216.73,114.93 L216.98,112.91 L217.22,110.99 L217.46,109.16 L217.70,107.42 L217.93,105.78 L218.17,104.24 L218.40,102.80 L218.63,101.46 L218.86,100.22 L219.08,99.09 L219.31,98.07 L219.53,97.16 L219.75,96.36 L219.97,95.68 L220.19,95.12 L220.41,94.70 L220.64,94.41 L220.90,94.30 L221.15,94.41 L221.36,94.70 L221.55,95.12 L221.73,95.68 L221.90,96.36 L222.06,97.16 L222.21,98.07 L222.36,99.09 L222.50,100.22 L222.64,101.46 L222.77,102.80 L222.89,104.24 L223.01,105.78 L223.13,107.42 L223.24,109.16 L223.34,110.99 L223.44,112.91 L223.54,114.93 L223.63,117.04 L223.72,119.24 L223.80,121.53 L223.88,123.91 L223.95,126.37 L224.02,128.93 L224.09,131.57 L224.15,134.29 L224.21,137.10 L224.27,140.00 Z" fill="#4c5cbe" opacity="0.85" filter="url(#b1)"/>
<path d="M215.61,140.00 L215.84,138.24 L216.07,136.54 L216.30,134.89 L216.52,133.29 L216.74,131.74 L216.95,130.25 L217.16,128.80 L217.37,127.42 L217.58,126.08 L217.78,124.81 L217.98,123.58 L218.17,122.42 L218.37,121.31 L218.56,120.25 L218.74,119.26 L218.92,118.33 L219.10,117.45 L219.28,116.64 L219.45,115.89 L219.62,115.21 L219.78,114.58 L219.95,114.03 L220.11,113.55 L220.26,113.13 L220.42,112.80 L220.57,112.54 L220.73,112.37 L220.90,112.30 L221.06,112.37 L221.19,112.54 L221.31,112.80 L221.42,113.13 L221.52,113.55 L221.61,114.03 L221.69,114.58 L221.77,115.21 L221.84,115.89 L221.91,116.64 L221.97,117.45 L222.02,118.33 L222.07,119.26 L222.11,120.25 L222.15,121.31 L222.19,122.42 L222.22,123.58 L222.24,124.81 L222.26,126.08 L222.28,127.42 L222.29,128.80 L222.30,130.25 L222.30,131.74 L222.30,133.29 L222.29,134.89 L222.28,136.54 L222.27,138.24 L222.25,140.00 Z" fill="#7484d4" opacity="0.6" filter="url(#b1)"/>
<ellipse cx="219.0" cy="124" rx="2.2" ry="9" fill="#8e9ee0" opacity="0.55" filter="url(#b1)"/>
<path d="M219.3,81.3 L220.9,74.8 L222.5,81.3 Z" fill="#000" opacity="0.7" filter="url(#b05)"/>
<ellipse cx="220.9" cy="81.3" rx="2.2" ry="3.5" fill="#000" filter="url(#b1)"/>
<circle cx="218.8" cy="104.3" r="0.56" fill="#98a8e4" opacity="0.6"/>
<circle cx="217.5" cy="127.1" r="0.58" fill="#98a8e4" opacity="0.6"/>
<circle cx="221.0" cy="117.2" r="0.73" fill="#98a8e4" opacity="0.6"/>
<circle cx="218.4" cy="126.8" r="0.57" fill="#98a8e4" opacity="0.6"/>
<circle cx="220.8" cy="111.3" r="0.78" fill="#98a8e4" opacity="0.6"/>
<circle cx="218.6" cy="104.9" r="0.49" fill="#98a8e4" opacity="0.6"/>
<circle cx="219.5" cy="107.5" r="0.64" fill="#98a8e4" opacity="0.6"/>
<circle cx="218.0" cy="108.4" r="0.57" fill="#98a8e4" opacity="0.6"/>
<circle cx="219.7" cy="111.6" r="0.78" fill="#98a8e4" opacity="0.6"/>
<circle cx="219.6" cy="121.5" r="0.65" fill="#98a8e4" opacity="0.6"/>
<circle cx="217.6" cy="121.1" r="0.76" fill="#98a8e4" opacity="0.6"/>
<circle cx="221.2" cy="124.2" r="0.72" fill="#98a8e4" opacity="0.6"/>
<circle cx="219.2" cy="112.3" r="0.44" fill="#98a8e4" opacity="0.6"/>
<circle cx="217.7" cy="119.8" r="0.43" fill="#98a8e4" opacity="0.6"/>
<ellipse cx="241.5" cy="129.5" rx="2.6" ry="3" fill="#000" opacity="0.55" filter="url(#b1)"/>
<ellipse cx="241.0" cy="127" rx="5" ry="6" fill="#000" opacity="0.2" filter="url(#b2)"/>
<ellipse cx="198.5" cy="129" rx="4" ry="3" fill="#000" opacity="0.3" filter="url(#b2)"/>
<line x1="194.5" y1="131.1" x2="248.5" y2="131.1" stroke="#e8e8e8" stroke-width="0.9"/>
</g>
<rect x="194.5" y="26.4" width="54" height="105.6" fill="none" stroke="#6a6a6a" stroke-width="1"/>
<line x1="248.5" y1="26.4" x2="248.5" y2="132" stroke="#333" stroke-width="1"/>
<line x1="191.9" y1="27.0" x2="194.5" y2="27.0" stroke="#000" stroke-width="1"/>
<line x1="191.9" y1="67.3" x2="194.5" y2="67.3" stroke="#000" stroke-width="1"/>
<line x1="191.9" y1="107.3" x2="194.5" y2="107.3" stroke="#000" stroke-width="1"/>
<line x1="194.5" y1="132" x2="194.5" y2="135" stroke="#000" stroke-width="0.8"/>
<line x1="207.75" y1="132" x2="207.75" y2="135" stroke="#000" stroke-width="0.8"/>
<line x1="221.0" y1="132" x2="221.0" y2="135" stroke="#000" stroke-width="0.8"/>
<line x1="234.25" y1="132" x2="234.25" y2="135" stroke="#000" stroke-width="0.8"/>
<line x1="247.5" y1="132" x2="247.5" y2="135" stroke="#000" stroke-width="0.8"/>
<text x="207.5" y="144.8" font-size="8.4" stroke="#000" stroke-width="0.25" text-anchor="middle">-0.5</text>
<text x="233.9" y="144.8" font-size="8.4" stroke="#000" stroke-width="0.25" text-anchor="middle">0.5</text>
<text x="295.4" y="22.9" font-size="10.8" font-weight="bold" fill="#1d2b5e" text-anchor="middle">300 fs</text>
<g clip-path="url(#ca3)">
<rect x="265.7" y="26.4" width="54" height="105.6" fill="#f6f6f6"/>
<rect x="265.7" y="26.4" width="54" height="105.6" fill="url(#vdark)"/>
<rect x="288.9" y="21.4" width="6" height="58.9" fill="#000" opacity="0.1" filter="url(#b2)"/>
<rect x="290.29999999999995" y="21.4" width="3.2" height="58.9" fill="#000" opacity="0.14" filter="url(#b1)"/>
<path d="M290.5,80.3 L277.5,26.4 M290.5,80.3 L303.5,26.4" stroke="#000" stroke-width="2.5" opacity="0.06" filter="url(#b1)"/>
<path d="M261.92,140.00 L262.83,135.58 L263.75,131.30 L264.67,127.14 L265.59,123.11 L266.51,119.22 L267.43,115.46 L268.35,111.83 L269.27,108.34 L270.19,104.98 L271.12,101.77 L272.04,98.69 L272.97,95.75 L273.90,92.96 L274.83,90.32 L275.77,87.82 L276.71,85.47 L277.65,83.27 L278.60,81.22 L279.55,79.34 L280.51,77.61 L281.47,76.05 L282.45,74.66 L283.44,73.44 L284.44,72.40 L285.47,71.55 L286.52,70.90 L287.63,70.47 L288.90,70.30 L290.16,70.47 L291.25,70.90 L292.27,71.55 L293.26,72.40 L294.22,73.44 L295.15,74.66 L296.06,76.05 L296.96,77.61 L297.84,79.34 L298.71,81.22 L299.56,83.27 L300.41,85.47 L301.24,87.82 L302.06,90.32 L302.87,92.96 L303.67,95.75 L304.47,98.69 L305.25,101.77 L306.03,104.98 L306.80,108.34 L307.57,111.83 L308.32,115.46 L309.07,119.22 L309.81,123.11 L310.55,127.14 L311.28,131.30 L312.00,135.58 L312.72,140.00 Z" fill="#000" opacity="0.1" filter="url(#b6)"/>
<path d="M271.28,140.00 L271.95,135.90 L272.61,131.92 L273.28,128.06 L273.94,124.32 L274.60,120.71 L275.26,117.22 L275.93,113.85 L276.59,110.61 L277.25,107.49 L277.91,104.51 L278.57,101.65 L279.23,98.93 L279.89,96.34 L280.55,93.88 L281.22,91.56 L281.88,89.38 L282.55,87.34 L283.21,85.44 L283.89,83.69 L284.56,82.09 L285.24,80.64 L285.92,79.34 L286.61,78.21 L287.31,77.25 L288.02,76.46 L288.76,75.86 L289.52,75.46 L290.40,75.30 L291.27,75.46 L292.02,75.86 L292.72,76.46 L293.39,77.25 L294.04,78.21 L294.68,79.34 L295.30,80.64 L295.91,82.09 L296.50,83.69 L297.08,85.44 L297.66,87.34 L298.22,89.38 L298.78,91.56 L299.33,93.88 L299.87,96.34 L300.40,98.93 L300.93,101.65 L301.45,104.51 L301.96,107.49 L302.47,110.61 L302.97,113.85 L303.47,117.22 L303.96,120.71 L304.44,124.32 L304.92,128.06 L305.39,131.92 L305.86,135.90 L306.32,140.00 Z" fill="#000" opacity="0.28" filter="url(#b4)"/>
<path d="M275.63,140.00 L276.19,136.09 L276.76,132.29 L277.32,128.61 L277.88,125.05 L278.44,121.60 L279.00,118.27 L279.55,115.06 L280.11,111.97 L280.67,109.00 L281.22,106.15 L281.78,103.43 L282.33,100.83 L282.89,98.36 L283.44,96.02 L284.00,93.81 L284.55,91.73 L285.11,89.78 L285.66,87.97 L286.22,86.30 L286.78,84.77 L287.34,83.39 L287.91,82.16 L288.48,81.08 L289.06,80.16 L289.65,79.41 L290.25,78.83 L290.88,78.45 L291.60,78.30 L292.31,78.45 L292.92,78.83 L293.50,79.41 L294.04,80.16 L294.57,81.08 L295.09,82.16 L295.59,83.39 L296.08,84.77 L296.56,86.30 L297.03,87.97 L297.50,89.78 L297.95,91.73 L298.40,93.81 L298.84,96.02 L299.27,98.36 L299.69,100.83 L300.11,103.43 L300.52,106.15 L300.93,109.00 L301.33,111.97 L301.73,115.06 L302.12,118.27 L302.50,121.60 L302.88,125.05 L303.26,128.61 L303.63,132.29 L303.99,136.09 L304.35,140.00 Z" fill="#000" opacity="0.36" filter="url(#b2)"/>
<path d="M278.6,134 L287.5,98.3 L267.6,134 Z" fill="#000" opacity="0.14" filter="url(#b4)"/>
<rect x="265.7" y="26.4" width="54" height="105.6" filter="url(#spk0)"/>
<rect x="265.7" y="26.4" width="54" height="105.6" filter="url(#spkw0)"/>
<path d="M278.70,140.00 L279.12,136.22 L279.54,132.54 L279.95,128.98 L280.37,125.53 L280.79,122.20 L281.20,118.98 L281.62,115.87 L282.04,112.88 L282.46,110.01 L282.88,107.25 L283.30,104.62 L283.72,102.10 L284.15,99.71 L284.58,97.44 L285.01,95.30 L285.45,93.29 L285.89,91.41 L286.33,89.66 L286.78,88.04 L287.24,86.56 L287.71,85.22 L288.19,84.03 L288.68,82.99 L289.19,82.10 L289.73,81.37 L290.31,80.82 L290.96,80.45 L291.90,80.30 L292.83,80.45 L293.46,80.82 L294.01,81.37 L294.51,82.10 L294.98,82.99 L295.41,84.03 L295.83,85.22 L296.22,86.56 L296.60,88.04 L296.96,89.66 L297.31,91.41 L297.65,93.29 L297.98,95.30 L298.29,97.44 L298.60,99.71 L298.89,102.10 L299.18,104.62 L299.46,107.25 L299.73,110.01 L300.00,112.88 L300.25,115.87 L300.50,118.98 L300.74,122.20 L300.98,125.53 L301.21,128.98 L301.43,132.54 L301.65,136.22 L301.86,140.00 Z" fill="#000" filter="url(#b05)"/>
<path d="M280.73,140.00 L281.18,136.61 L281.62,133.32 L282.06,130.13 L282.50,127.04 L282.93,124.05 L283.36,121.16 L283.79,118.38 L284.22,115.70 L284.64,113.12 L285.05,110.65 L285.47,108.29 L285.88,106.04 L286.29,103.90 L286.69,101.86 L287.09,99.95 L287.49,98.14 L287.88,96.45 L288.27,94.88 L288.65,93.44 L289.03,92.11 L289.41,90.91 L289.78,89.84 L290.15,88.91 L290.51,88.11 L290.87,87.46 L291.22,86.96 L291.56,86.63 L291.90,86.50 L292.23,86.63 L292.55,86.96 L292.87,87.46 L293.19,88.11 L293.50,88.91 L293.81,89.84 L294.12,90.91 L294.42,92.11 L294.72,93.44 L295.02,94.88 L295.31,96.45 L295.60,98.14 L295.88,99.95 L296.16,101.86 L296.44,103.90 L296.72,106.04 L296.99,108.29 L297.26,110.65 L297.52,113.12 L297.79,115.70 L298.05,118.38 L298.30,121.16 L298.56,124.05 L298.81,127.04 L299.06,130.13 L299.30,133.32 L299.54,136.61 L299.78,140.00 Z" fill="#141c70" filter="url(#b05)"/>
<path d="M282.86,140.00 L283.23,136.79 L283.60,133.67 L283.96,130.64 L284.33,127.72 L284.68,124.88 L285.04,122.15 L285.39,119.51 L285.74,116.97 L286.08,114.53 L286.42,112.19 L286.76,109.95 L287.10,107.82 L287.43,105.78 L287.75,103.86 L288.08,102.04 L288.40,100.33 L288.71,98.73 L289.03,97.25 L289.33,95.87 L289.64,94.62 L289.94,93.48 L290.23,92.47 L290.53,91.58 L290.81,90.83 L291.09,90.21 L291.37,89.74 L291.64,89.43 L291.90,89.30 L292.15,89.43 L292.40,89.74 L292.65,90.21 L292.89,90.83 L293.12,91.58 L293.36,92.47 L293.59,93.48 L293.81,94.62 L294.03,95.87 L294.25,97.25 L294.47,98.73 L294.68,100.33 L294.89,102.04 L295.09,103.86 L295.29,105.78 L295.49,107.82 L295.68,109.95 L295.87,112.19 L296.06,114.53 L296.25,116.97 L296.43,119.51 L296.61,122.15 L296.78,124.88 L296.96,127.72 L297.12,130.64 L297.29,133.67 L297.45,136.79 L297.61,140.00 Z" fill="#2c39a4" filter="url(#b1)"/>
<path d="M285.21,140.00 L285.48,137.23 L285.74,134.54 L286.01,131.94 L286.27,129.41 L286.53,126.97 L286.78,124.61 L287.04,122.34 L287.29,120.15 L287.54,118.04 L287.78,116.03 L288.02,114.10 L288.27,112.26 L288.50,110.51 L288.74,108.85 L288.97,107.28 L289.20,105.81 L289.43,104.43 L289.66,103.15 L289.89,101.97 L290.11,100.88 L290.33,99.90 L290.55,99.03 L290.77,98.27 L290.98,97.62 L291.20,97.08 L291.42,96.68 L291.65,96.41 L291.90,96.30 L292.14,96.41 L292.35,96.68 L292.54,97.08 L292.71,97.62 L292.88,98.27 L293.04,99.03 L293.19,99.90 L293.33,100.88 L293.47,101.97 L293.60,103.15 L293.73,104.43 L293.85,105.81 L293.97,107.28 L294.08,108.85 L294.18,110.51 L294.28,112.26 L294.38,114.10 L294.47,116.03 L294.56,118.04 L294.64,120.15 L294.72,122.34 L294.80,124.61 L294.87,126.97 L294.94,129.41 L295.00,131.94 L295.06,134.54 L295.11,137.23 L295.17,140.00 Z" fill="#4c5cbe" opacity="0.85" filter="url(#b1)"/>
<path d="M286.61,140.00 L286.85,138.37 L287.08,136.79 L287.30,135.26 L287.53,133.77 L287.75,132.34 L287.96,130.95 L288.18,129.61 L288.39,128.32 L288.59,127.09 L288.80,125.90 L289.00,124.77 L289.19,123.69 L289.38,122.66 L289.57,121.68 L289.76,120.76 L289.94,119.89 L290.12,119.08 L290.29,118.33 L290.47,117.63 L290.63,117.00 L290.80,116.42 L290.96,115.91 L291.12,115.46 L291.27,115.07 L291.43,114.76 L291.58,114.52 L291.73,114.36 L291.90,114.30 L292.06,114.36 L292.18,114.52 L292.30,114.76 L292.40,115.07 L292.50,115.46 L292.59,115.91 L292.67,116.42 L292.74,117.00 L292.81,117.63 L292.87,118.33 L292.93,119.08 L292.98,119.89 L293.02,120.76 L293.06,121.68 L293.09,122.66 L293.12,123.69 L293.15,124.77 L293.17,125.90 L293.18,127.09 L293.19,128.32 L293.20,129.61 L293.20,130.95 L293.20,132.34 L293.19,133.77 L293.18,135.26 L293.16,136.79 L293.14,138.37 L293.12,140.00 Z" fill="#7484d4" opacity="0.6" filter="url(#b1)"/>
<ellipse cx="290.0" cy="124" rx="2.2" ry="9" fill="#8e9ee0" opacity="0.55" filter="url(#b1)"/>
<path d="M290.29999999999995,83.3 L291.9,76.8 L293.5,83.3 Z" fill="#000" opacity="0.7" filter="url(#b05)"/>
<ellipse cx="291.9" cy="83.3" rx="2.2" ry="3.5" fill="#000" filter="url(#b1)"/>
<circle cx="289.6" cy="108.3" r="0.54" fill="#98a8e4" opacity="0.6"/>
<circle cx="289.3" cy="103.8" r="0.46" fill="#98a8e4" opacity="0.6"/>
<circle cx="290.2" cy="105.2" r="0.41" fill="#98a8e4" opacity="0.6"/>
<circle cx="291.0" cy="127.4" r="0.46" fill="#98a8e4" opacity="0.6"/>
<circle cx="290.1" cy="109.5" r="0.55" fill="#98a8e4" opacity="0.6"/>
<circle cx="291.4" cy="105.8" r="0.80" fill="#98a8e4" opacity="0.6"/>
<circle cx="290.4" cy="115.7" r="0.43" fill="#98a8e4" opacity="0.6"/>
<circle cx="290.1" cy="105.2" r="0.51" fill="#98a8e4" opacity="0.6"/>
<circle cx="288.9" cy="126.1" r="0.41" fill="#98a8e4" opacity="0.6"/>
<circle cx="290.6" cy="129.6" r="0.46" fill="#98a8e4" opacity="0.6"/>
<circle cx="288.7" cy="117.9" r="0.61" fill="#98a8e4" opacity="0.6"/>
<circle cx="292.3" cy="130.4" r="0.68" fill="#98a8e4" opacity="0.6"/>
<circle cx="290.1" cy="109.8" r="0.47" fill="#98a8e4" opacity="0.6"/>
<circle cx="290.6" cy="124.5" r="0.71" fill="#98a8e4" opacity="0.6"/>
<ellipse cx="312.7" cy="129.5" rx="2.6" ry="3" fill="#000" opacity="0.55" filter="url(#b1)"/>
<ellipse cx="312.2" cy="127" rx="5" ry="6" fill="#000" opacity="0.2" filter="url(#b2)"/>
<ellipse cx="269.7" cy="129" rx="4" ry="3" fill="#000" opacity="0.3" filter="url(#b2)"/>
<line x1="265.7" y1="131.1" x2="319.7" y2="131.1" stroke="#e8e8e8" stroke-width="0.9"/>
</g>
<rect x="265.7" y="26.4" width="54" height="105.6" fill="none" stroke="#6a6a6a" stroke-width="1"/>
<line x1="319.7" y1="26.4" x2="319.7" y2="132" stroke="#333" stroke-width="1"/>
<line x1="263.09999999999997" y1="27.0" x2="265.7" y2="27.0" stroke="#000" stroke-width="1"/>
<line x1="263.09999999999997" y1="67.3" x2="265.7" y2="67.3" stroke="#000" stroke-width="1"/>
<line x1="263.09999999999997" y1="107.3" x2="265.7" y2="107.3" stroke="#000" stroke-width="1"/>
<line x1="265.7" y1="132" x2="265.7" y2="135" stroke="#000" stroke-width="0.8"/>
<line x1="278.95" y1="132" x2="278.95" y2="135" stroke="#000" stroke-width="0.8"/>
<line x1="292.2" y1="132" x2="292.2" y2="135" stroke="#000" stroke-width="0.8"/>
<line x1="305.45" y1="132" x2="305.45" y2="135" stroke="#000" stroke-width="0.8"/>
<line x1="318.7" y1="132" x2="318.7" y2="135" stroke="#000" stroke-width="0.8"/>
<text x="278.7" y="144.8" font-size="8.4" stroke="#000" stroke-width="0.25" text-anchor="middle">-0.5</text>
<text x="305.1" y="144.8" font-size="8.4" stroke="#000" stroke-width="0.25" text-anchor="middle">0.5</text>
<text x="366.3" y="22.9" font-size="10.8" font-weight="bold" fill="#1d2b5e" text-anchor="middle">400 fs</text>
<g clip-path="url(#ca4)">
<rect x="337.5" y="26.4" width="54" height="105.6" fill="#f6f6f6"/>
<rect x="337.5" y="26.4" width="54" height="105.6" fill="url(#vdark)"/>
<rect x="361.2" y="21.4" width="6" height="60.800000000000004" fill="#000" opacity="0.1" filter="url(#b2)"/>
<rect x="362.59999999999997" y="21.4" width="3.2" height="60.800000000000004" fill="#000" opacity="0.14" filter="url(#b1)"/>
<path d="M362.8,82.2 L349.8,26.4 M362.8,82.2 L375.8,26.4" stroke="#000" stroke-width="2.5" opacity="0.06" filter="url(#b1)"/>
<path d="M334.48,140.00 L335.39,135.70 L336.30,131.53 L337.21,127.49 L338.12,123.57 L339.03,119.78 L339.95,116.12 L340.86,112.60 L341.77,109.20 L342.68,105.94 L343.60,102.81 L344.52,99.82 L345.43,96.96 L346.35,94.24 L347.28,91.67 L348.20,89.24 L349.13,86.95 L350.07,84.81 L351.00,82.83 L351.95,80.99 L352.90,79.31 L353.85,77.79 L354.82,76.44 L355.80,75.25 L356.79,74.24 L357.81,73.42 L358.85,72.79 L359.94,72.37 L361.20,72.20 L362.45,72.37 L363.52,72.79 L364.54,73.42 L365.51,74.24 L366.46,75.25 L367.38,76.44 L368.29,77.79 L369.17,79.31 L370.04,80.99 L370.90,82.83 L371.74,84.81 L372.58,86.95 L373.40,89.24 L374.21,91.67 L375.01,94.24 L375.81,96.96 L376.59,99.82 L377.37,102.81 L378.14,105.94 L378.90,109.20 L379.65,112.60 L380.40,116.12 L381.14,119.78 L381.87,123.57 L382.60,127.49 L383.32,131.53 L384.03,135.70 L384.74,140.00 Z" fill="#000" opacity="0.1" filter="url(#b6)"/>
<path d="M343.86,140.00 L344.52,136.02 L345.17,132.16 L345.83,128.41 L346.48,124.78 L347.14,121.27 L347.79,117.89 L348.44,114.62 L349.09,111.47 L349.74,108.45 L350.40,105.55 L351.05,102.78 L351.70,100.13 L352.35,97.62 L353.00,95.23 L353.66,92.98 L354.31,90.86 L354.97,88.88 L355.63,87.04 L356.29,85.34 L356.95,83.79 L357.62,82.38 L358.29,81.12 L358.97,80.03 L359.66,79.09 L360.36,78.33 L361.08,77.74 L361.84,77.36 L362.70,77.20 L363.55,77.36 L364.29,77.74 L364.98,78.33 L365.64,79.09 L366.28,80.03 L366.91,81.12 L367.52,82.38 L368.11,83.79 L368.70,85.34 L369.27,87.04 L369.84,88.88 L370.39,90.86 L370.94,92.98 L371.48,95.23 L372.01,97.62 L372.53,100.13 L373.05,102.78 L373.56,105.55 L374.06,108.45 L374.56,111.47 L375.05,114.62 L375.53,117.89 L376.01,121.27 L376.49,124.78 L376.96,128.41 L377.42,132.16 L377.88,136.02 L378.33,140.00 Z" fill="#000" opacity="0.28" filter="url(#b4)"/>
<path d="M348.21,140.00 L348.76,136.21 L349.32,132.53 L349.87,128.97 L350.42,125.51 L350.97,122.17 L351.52,118.94 L352.07,115.83 L352.62,112.83 L353.17,109.96 L353.71,107.20 L354.26,104.56 L354.80,102.04 L355.35,99.64 L355.89,97.37 L356.44,95.23 L356.98,93.21 L357.53,91.33 L358.07,89.57 L358.62,87.95 L359.17,86.47 L359.72,85.13 L360.28,83.94 L360.84,82.89 L361.41,82.00 L361.99,81.27 L362.58,80.72 L363.19,80.35 L363.90,80.20 L364.60,80.35 L365.20,80.72 L365.76,81.27 L366.29,82.00 L366.81,82.89 L367.32,83.94 L367.81,85.13 L368.29,86.47 L368.76,87.95 L369.22,89.57 L369.67,91.33 L370.11,93.21 L370.55,95.23 L370.98,97.37 L371.40,99.64 L371.82,102.04 L372.22,104.56 L372.63,107.20 L373.02,109.96 L373.42,112.83 L373.80,115.83 L374.18,118.94 L374.56,122.17 L374.93,125.51 L375.29,128.97 L375.65,132.53 L376.01,136.21 L376.36,140.00 Z" fill="#000" opacity="0.36" filter="url(#b2)"/>
<path d="M351.2,134 L359.8,100.2 L340.2,134 Z" fill="#000" opacity="0.14" filter="url(#b4)"/>
<rect x="337.5" y="26.4" width="54" height="105.6" filter="url(#spk1)"/>
<rect x="337.5" y="26.4" width="54" height="105.6" filter="url(#spkw1)"/>
<path d="M351.29,140.00 L351.70,136.34 L352.11,132.78 L352.52,129.33 L352.93,125.99 L353.33,122.77 L353.74,119.65 L354.15,116.64 L354.56,113.74 L354.97,110.96 L355.39,108.29 L355.80,105.74 L356.21,103.31 L356.63,100.99 L357.05,98.80 L357.47,96.73 L357.90,94.78 L358.33,92.95 L358.76,91.26 L359.20,89.69 L359.65,88.26 L360.11,86.97 L360.58,85.81 L361.06,84.80 L361.56,83.94 L362.09,83.24 L362.65,82.70 L363.29,82.34 L364.20,82.20 L365.10,82.34 L365.72,82.70 L366.26,83.24 L366.74,83.94 L367.19,84.80 L367.62,85.81 L368.02,86.97 L368.41,88.26 L368.77,89.69 L369.13,91.26 L369.47,92.95 L369.79,94.78 L370.11,96.73 L370.42,98.80 L370.71,100.99 L371.00,103.31 L371.28,105.74 L371.55,108.29 L371.81,110.96 L372.06,113.74 L372.31,116.64 L372.55,119.65 L372.78,122.77 L373.01,125.99 L373.23,129.33 L373.45,132.78 L373.66,136.34 L373.86,140.00 Z" fill="#000" filter="url(#b05)"/>
<path d="M353.20,140.00 L353.64,136.73 L354.08,133.56 L354.52,130.48 L354.95,127.50 L355.38,124.61 L355.80,121.83 L356.22,119.14 L356.64,116.56 L357.06,114.08 L357.47,111.69 L357.88,109.42 L358.28,107.24 L358.68,105.18 L359.08,103.22 L359.47,101.37 L359.86,99.63 L360.25,98.00 L360.63,96.49 L361.01,95.09 L361.38,93.81 L361.75,92.66 L362.12,91.62 L362.48,90.72 L362.84,89.95 L363.19,89.33 L363.53,88.85 L363.87,88.53 L364.20,88.40 L364.52,88.53 L364.84,88.85 L365.15,89.33 L365.46,89.95 L365.77,90.72 L366.07,91.62 L366.37,92.66 L366.67,93.81 L366.96,95.09 L367.25,96.49 L367.53,98.00 L367.82,99.63 L368.09,101.37 L368.37,103.22 L368.64,105.18 L368.91,107.24 L369.17,109.42 L369.44,111.69 L369.69,114.08 L369.95,116.56 L370.20,119.14 L370.45,121.83 L370.70,124.61 L370.94,127.50 L371.18,130.48 L371.42,133.56 L371.65,136.73 L371.88,140.00 Z" fill="#141c70" filter="url(#b05)"/>
<path d="M355.34,140.00 L355.70,136.91 L356.07,133.91 L356.42,130.99 L356.78,128.18 L357.13,125.45 L357.48,122.82 L357.83,120.28 L358.17,117.83 L358.51,115.48 L358.84,113.23 L359.17,111.08 L359.50,109.02 L359.83,107.07 L360.15,105.21 L360.46,103.46 L360.78,101.82 L361.09,100.28 L361.39,98.85 L361.69,97.53 L361.99,96.32 L362.29,95.22 L362.57,94.25 L362.86,93.40 L363.14,92.67 L363.41,92.08 L363.68,91.62 L363.95,91.32 L364.20,91.20 L364.45,91.32 L364.69,91.62 L364.93,92.08 L365.16,92.67 L365.39,93.40 L365.62,94.25 L365.84,95.22 L366.06,96.32 L366.27,97.53 L366.48,98.85 L366.69,100.28 L366.89,101.82 L367.09,103.46 L367.29,105.21 L367.49,107.07 L367.68,109.02 L367.86,111.08 L368.05,113.23 L368.23,115.48 L368.40,117.83 L368.58,120.28 L368.75,122.82 L368.92,125.45 L369.08,128.18 L369.24,130.99 L369.40,133.91 L369.56,136.91 L369.71,140.00 Z" fill="#2c39a4" filter="url(#b1)"/>
<path d="M357.69,140.00 L357.95,137.35 L358.21,134.78 L358.47,132.29 L358.73,129.87 L358.98,127.54 L359.23,125.28 L359.48,123.11 L359.72,121.01 L359.97,119.00 L360.21,117.07 L360.44,115.23 L360.68,113.47 L360.91,111.79 L361.14,110.20 L361.37,108.70 L361.59,107.30 L361.82,105.98 L362.04,104.75 L362.25,103.62 L362.47,102.58 L362.68,101.65 L362.90,100.81 L363.11,100.08 L363.32,99.46 L363.53,98.95 L363.74,98.56 L363.96,98.30 L364.20,98.20 L364.43,98.30 L364.63,98.56 L364.81,98.95 L364.98,99.46 L365.14,100.08 L365.29,100.81 L365.43,101.65 L365.57,102.58 L365.70,103.62 L365.82,104.75 L365.94,105.98 L366.05,107.30 L366.16,108.70 L366.27,110.20 L366.36,111.79 L366.46,113.47 L366.55,115.23 L366.63,117.07 L366.71,119.00 L366.79,121.01 L366.86,123.11 L366.93,125.28 L366.99,127.54 L367.05,129.87 L367.11,132.29 L367.16,134.78 L367.21,137.35 L367.25,140.00 Z" fill="#4c5cbe" opacity="0.85" filter="url(#b1)"/>
<path d="M359.02,140.00 L359.26,138.49 L359.48,137.03 L359.71,135.61 L359.93,134.23 L360.15,132.90 L360.36,131.62 L360.58,130.38 L360.78,129.19 L360.99,128.04 L361.19,126.94 L361.38,125.89 L361.58,124.89 L361.76,123.94 L361.95,123.03 L362.13,122.18 L362.31,121.38 L362.48,120.63 L362.65,119.93 L362.82,119.29 L362.99,118.70 L363.14,118.16 L363.30,117.69 L363.45,117.27 L363.60,116.92 L363.75,116.63 L363.90,116.41 L364.04,116.26 L364.20,116.20 L364.35,116.26 L364.47,116.41 L364.57,116.63 L364.67,116.92 L364.76,117.27 L364.84,117.69 L364.91,118.16 L364.97,118.70 L365.03,119.29 L365.08,119.93 L365.13,120.63 L365.17,121.38 L365.21,122.18 L365.24,123.03 L365.26,123.94 L365.28,124.89 L365.30,125.89 L365.31,126.94 L365.32,128.04 L365.32,129.19 L365.31,130.38 L365.30,131.62 L365.29,132.90 L365.27,134.23 L365.25,135.61 L365.22,137.03 L365.19,138.49 L365.16,140.00 Z" fill="#7484d4" opacity="0.6" filter="url(#b1)"/>
<ellipse cx="362.3" cy="124" rx="2.2" ry="9" fill="#8e9ee0" opacity="0.55" filter="url(#b1)"/>
<path d="M362.59999999999997,85.2 L364.2,78.7 L365.8,85.2 Z" fill="#000" opacity="0.7" filter="url(#b05)"/>
<ellipse cx="364.2" cy="85.2" rx="2.2" ry="3.5" fill="#000" filter="url(#b1)"/>
<circle cx="361.9" cy="113.0" r="0.72" fill="#98a8e4" opacity="0.6"/>
<circle cx="364.5" cy="130.6" r="0.72" fill="#98a8e4" opacity="0.6"/>
<circle cx="363.9" cy="126.1" r="0.49" fill="#98a8e4" opacity="0.6"/>
<circle cx="362.3" cy="118.1" r="0.41" fill="#98a8e4" opacity="0.6"/>
<circle cx="362.3" cy="104.9" r="0.50" fill="#98a8e4" opacity="0.6"/>
<circle cx="364.7" cy="122.8" r="0.58" fill="#98a8e4" opacity="0.6"/>
<circle cx="365.1" cy="129.3" r="0.78" fill="#98a8e4" opacity="0.6"/>
<circle cx="361.9" cy="114.0" r="0.49" fill="#98a8e4" opacity="0.6"/>
<circle cx="362.0" cy="109.5" r="0.65" fill="#98a8e4" opacity="0.6"/>
<circle cx="364.4" cy="128.3" r="0.59" fill="#98a8e4" opacity="0.6"/>
<circle cx="364.0" cy="121.7" r="0.43" fill="#98a8e4" opacity="0.6"/>
<circle cx="364.4" cy="121.9" r="0.71" fill="#98a8e4" opacity="0.6"/>
<circle cx="362.7" cy="124.3" r="0.47" fill="#98a8e4" opacity="0.6"/>
<circle cx="362.1" cy="125.3" r="0.72" fill="#98a8e4" opacity="0.6"/>
<ellipse cx="384.5" cy="129.5" rx="2.6" ry="3" fill="#000" opacity="0.55" filter="url(#b1)"/>
<ellipse cx="384.0" cy="127" rx="5" ry="6" fill="#000" opacity="0.2" filter="url(#b2)"/>
<ellipse cx="341.5" cy="129" rx="4" ry="3" fill="#000" opacity="0.3" filter="url(#b2)"/>
<line x1="337.5" y1="131.1" x2="391.5" y2="131.1" stroke="#e8e8e8" stroke-width="0.9"/>
</g>
<rect x="337.5" y="26.4" width="54" height="105.6" fill="none" stroke="#6a6a6a" stroke-width="1"/>
<line x1="391.5" y1="26.4" x2="391.5" y2="132" stroke="#333" stroke-width="1"/>
<line x1="334.9" y1="27.0" x2="337.5" y2="27.0" stroke="#000" stroke-width="1"/>
<line x1="334.9" y1="67.3" x2="337.5" y2="67.3" stroke="#000" stroke-width="1"/>
<line x1="334.9" y1="107.3" x2="337.5" y2="107.3" stroke="#000" stroke-width="1"/>
<line x1="337.5" y1="132" x2="337.5" y2="135" stroke="#000" stroke-width="0.8"/>
<line x1="350.75" y1="132" x2="350.75" y2="135" stroke="#000" stroke-width="0.8"/>
<line x1="364.0" y1="132" x2="364.0" y2="135" stroke="#000" stroke-width="0.8"/>
<line x1="377.25" y1="132" x2="377.25" y2="135" stroke="#000" stroke-width="0.8"/>
<line x1="390.5" y1="132" x2="390.5" y2="135" stroke="#000" stroke-width="0.8"/>
<text x="350.5" y="144.8" font-size="8.4" stroke="#000" stroke-width="0.25" text-anchor="middle">-0.5</text>
<text x="376.9" y="144.8" font-size="8.4" stroke="#000" stroke-width="0.25" text-anchor="middle">0.5</text>
<text x="47.8" y="29.6" font-size="8.4" stroke="#000" stroke-width="0.25" text-anchor="end">0.5</text>
<text x="47.8" y="70" font-size="8.4" stroke="#000" stroke-width="0.25" text-anchor="end">0.0</text>
<text x="47.8" y="109.9" font-size="8.4" stroke="#000" stroke-width="0.25" text-anchor="end">-0.5</text>
<text transform="translate(24.9,93.6) rotate(-90)" font-size="10.9">E-E<tspan font-size="7.4" dy="1.2">F</tspan><tspan dy="-1.2" font-weight="normal"> (eV)</tspan></text>
<text x="207.4" y="156.3" font-size="10.5">k<tspan font-size="8" dy="0.8">x</tspan><tspan dy="-0.8"> (Å</tspan><tspan font-size="6.5" dy="-4.2">-1</tspan><tspan dy="4.2">)</tspan></text>
<text x="0.5" y="165" font-size="12">(b)</text>
<line x1="53" y1="174.3" x2="108" y2="174.3" stroke="#e0e0e0" stroke-width="0.8"/>
<line x1="53" y1="198.3" x2="108" y2="198.3" stroke="#e0e0e0" stroke-width="0.8"/>
<polyline points="54.4,164.1 58.5,164.4 63.4,166.2 68.3,169.8 72.4,175.5 74.8,181.2 77.3,189.3 79.7,198.3 82.1,208.1 84.3,214.6 86.2,213.8 88.2,216.2 90.4,210.5 92.4,219.5 94.0,217.8 95.7,216.2 97.3,213.8 98.9,218.7 100.5,216.2 102.5,217.0 104.1,215.1 105.8,215.4" fill="none" stroke="#000" stroke-width="1.6" stroke-linejoin="round"/>
<rect x="53" y="162.5" width="55" height="60.30000000000001" fill="none" stroke="#a0a0a0" stroke-width="1.5"/>
<line x1="53" y1="222.8" x2="108" y2="222.8" stroke="#000" stroke-width="1.2"/>
<line x1="49.5" y1="174.3" x2="53" y2="174.3" stroke="#000" stroke-width="0.8"/>
<line x1="49.5" y1="198.3" x2="53" y2="198.3" stroke="#000" stroke-width="0.8"/>
<line x1="49.5" y1="222.5" x2="53" y2="222.5" stroke="#000" stroke-width="0.8"/>
<line x1="54.5" y1="222.8" x2="54.5" y2="226.3" stroke="#000" stroke-width="0.8"/>
<line x1="61.9" y1="222.8" x2="61.9" y2="226.3" stroke="#000" stroke-width="0.8"/>
<line x1="69.3" y1="222.8" x2="69.3" y2="226.3" stroke="#000" stroke-width="0.8"/>
<line x1="76.7" y1="222.8" x2="76.7" y2="226.3" stroke="#000" stroke-width="0.8"/>
<line x1="84.1" y1="222.8" x2="84.1" y2="226.3" stroke="#000" stroke-width="0.8"/>
<line x1="91.5" y1="222.8" x2="91.5" y2="226.3" stroke="#000" stroke-width="0.8"/>
<line x1="98.9" y1="222.8" x2="98.9" y2="226.3" stroke="#000" stroke-width="0.8"/>
<line x1="106.3" y1="222.8" x2="106.3" y2="226.3" stroke="#000" stroke-width="0.8"/>
<text x="69.5" y="235.8" font-size="8.4" stroke="#000" stroke-width="0.25" text-anchor="middle">-0.4</text>
<text x="99.2" y="235.8" font-size="8.4" stroke="#000" stroke-width="0.25" text-anchor="middle">0.4</text>
<line x1="123" y1="174.3" x2="178.1" y2="174.3" stroke="#e0e0e0" stroke-width="0.8"/>
<line x1="123" y1="198.3" x2="178.1" y2="198.3" stroke="#e0e0e0" stroke-width="0.8"/>
<polyline points="124.4,164.1 128.5,164.4 133.4,166.2 138.3,169.8 142.4,175.5 144.8,181.2 147.3,189.3 149.7,198.3 152.1,208.1 154.3,214.6 156.2,213.8 158.2,216.2 160.4,210.5 162.4,219.5 164.0,217.8 165.7,216.2 167.3,213.8 168.9,218.7 170.5,216.2 172.5,217.0 174.1,215.1 175.8,215.4" fill="none" stroke="#d6d6d6" stroke-width="1.5" stroke-linejoin="round"/>
<polyline points="124.6,164.5 130.3,165.6 135.9,168.5 141.5,174.1 146.0,179.8 149.4,186.5 152.8,194.4 155.0,200.0 157.3,202.7 159.5,204.5 161.8,202.7 164.1,204.1 166.3,202.3 169.0,203.4 170.8,201.6 173.1,203.4 175.3,202.3 177.1,205.0" fill="none" stroke="#2c44a4" stroke-width="1.6" stroke-linejoin="round"/>
<rect x="123" y="162.5" width="55.099999999999994" height="60.30000000000001" fill="none" stroke="#a0a0a0" stroke-width="1.5"/>
<line x1="119.5" y1="174.3" x2="123" y2="174.3" stroke="#000" stroke-width="0.8"/>
<line x1="119.5" y1="198.3" x2="123" y2="198.3" stroke="#000" stroke-width="0.8"/>
<line x1="119.5" y1="222.5" x2="123" y2="222.5" stroke="#000" stroke-width="0.8"/>
<line x1="124.5" y1="222.8" x2="124.5" y2="226.3" stroke="#000" stroke-width="0.8"/>
<line x1="131.9" y1="222.8" x2="131.9" y2="226.3" stroke="#000" stroke-width="0.8"/>
<line x1="139.3" y1="222.8" x2="139.3" y2="226.3" stroke="#000" stroke-width="0.8"/>
<line x1="146.7" y1="222.8" x2="146.7" y2="226.3" stroke="#000" stroke-width="0.8"/>
<line x1="154.1" y1="222.8" x2="154.1" y2="226.3" stroke="#000" stroke-width="0.8"/>
<line x1="161.5" y1="222.8" x2="161.5" y2="226.3" stroke="#000" stroke-width="0.8"/>
<line x1="168.9" y1="222.8" x2="168.9" y2="226.3" stroke="#000" stroke-width="0.8"/>
<line x1="176.3" y1="222.8" x2="176.3" y2="226.3" stroke="#000" stroke-width="0.8"/>
<text x="139.5" y="235.8" font-size="8.4" stroke="#000" stroke-width="0.25" text-anchor="middle">-0.4</text>
<text x="169.2" y="235.8" font-size="8.4" stroke="#000" stroke-width="0.25" text-anchor="middle">0.4</text>
<line x1="193.8" y1="174.3" x2="248.6" y2="174.3" stroke="#e0e0e0" stroke-width="0.8"/>
<line x1="193.8" y1="198.3" x2="248.6" y2="198.3" stroke="#e0e0e0" stroke-width="0.8"/>
<polyline points="195.2,164.1 199.3,164.4 204.2,166.2 209.1,169.8 213.2,175.5 215.6,181.2 218.1,189.3 220.5,198.3 222.9,208.1 225.1,214.6 227.0,213.8 229.0,216.2 231.2,210.5 233.2,219.5 234.8,217.8 236.5,216.2 238.1,213.8 239.7,218.7 241.3,216.2 243.3,217.0 244.9,215.1 246.6,215.4" fill="none" stroke="#d6d6d6" stroke-width="1.5" stroke-linejoin="round"/>
<polyline points="194.9,164.4 199.3,164.9 203.4,166.5 207.5,169.4 211.2,173.8 214.8,179.6 218.1,185.3 221.3,191.0 223.8,196.7 225.4,201.5 227.0,201.5 228.2,202.7 229.8,204.0 231.9,202.0 234.7,199.4 237.6,200.1 240.5,200.7 242.8,202.0 245.0,204.0 246.1,205.3 247.7,203.7" fill="none" stroke="#2c44a4" stroke-width="1.6" stroke-linejoin="round"/>
<rect x="193.8" y="162.5" width="54.79999999999998" height="60.30000000000001" fill="none" stroke="#a0a0a0" stroke-width="1.5"/>
<line x1="190.3" y1="174.3" x2="193.8" y2="174.3" stroke="#000" stroke-width="0.8"/>
<line x1="190.3" y1="198.3" x2="193.8" y2="198.3" stroke="#000" stroke-width="0.8"/>
<line x1="190.3" y1="222.5" x2="193.8" y2="222.5" stroke="#000" stroke-width="0.8"/>
<line x1="195.3" y1="222.8" x2="195.3" y2="226.3" stroke="#000" stroke-width="0.8"/>
<line x1="202.7" y1="222.8" x2="202.7" y2="226.3" stroke="#000" stroke-width="0.8"/>
<line x1="210.1" y1="222.8" x2="210.1" y2="226.3" stroke="#000" stroke-width="0.8"/>
<line x1="217.5" y1="222.8" x2="217.5" y2="226.3" stroke="#000" stroke-width="0.8"/>
<line x1="224.9" y1="222.8" x2="224.9" y2="226.3" stroke="#000" stroke-width="0.8"/>
<line x1="232.3" y1="222.8" x2="232.3" y2="226.3" stroke="#000" stroke-width="0.8"/>
<line x1="239.7" y1="222.8" x2="239.7" y2="226.3" stroke="#000" stroke-width="0.8"/>
<line x1="247.1" y1="222.8" x2="247.1" y2="226.3" stroke="#000" stroke-width="0.8"/>
<text x="210.3" y="235.8" font-size="8.4" stroke="#000" stroke-width="0.25" text-anchor="middle">-0.4</text>
<text x="240.0" y="235.8" font-size="8.4" stroke="#000" stroke-width="0.25" text-anchor="middle">0.4</text>
<line x1="267" y1="174.3" x2="321.7" y2="174.3" stroke="#e0e0e0" stroke-width="0.8"/>
<line x1="267" y1="198.3" x2="321.7" y2="198.3" stroke="#e0e0e0" stroke-width="0.8"/>
<polyline points="268.4,164.1 272.5,164.4 277.4,166.2 282.3,169.8 286.4,175.5 288.8,181.2 291.3,189.3 293.7,198.3 296.1,208.1 298.3,214.6 300.2,213.8 302.2,216.2 304.4,210.5 306.4,219.5 308.0,217.8 309.7,216.2 311.3,213.8 312.9,218.7 314.5,216.2 316.5,217.0 318.1,215.1 319.8,215.4" fill="none" stroke="#d6d6d6" stroke-width="1.5" stroke-linejoin="round"/>
<polyline points="268.3,164.4 272.3,164.9 276.4,166.5 280.5,169.4 284.2,173.8 287.8,178.7 290.7,184.4 293.5,191.0 296.0,197.5 297.6,202.7 299.2,204.0 300.8,204.3 302.8,202.7 304.9,200.7 307.0,198.8 308.7,199.4 310.3,198.4 312.2,199.9 314.7,201.5 316.8,202.7 318.4,204.8 320.1,207.2" fill="none" stroke="#2c44a4" stroke-width="1.6" stroke-linejoin="round"/>
<rect x="267" y="162.5" width="54.69999999999999" height="60.30000000000001" fill="none" stroke="#a0a0a0" stroke-width="1.5"/>
<line x1="263.5" y1="174.3" x2="267" y2="174.3" stroke="#000" stroke-width="0.8"/>
<line x1="263.5" y1="198.3" x2="267" y2="198.3" stroke="#000" stroke-width="0.8"/>
<line x1="263.5" y1="222.5" x2="267" y2="222.5" stroke="#000" stroke-width="0.8"/>
<line x1="268.5" y1="222.8" x2="268.5" y2="226.3" stroke="#000" stroke-width="0.8"/>
<line x1="275.9" y1="222.8" x2="275.9" y2="226.3" stroke="#000" stroke-width="0.8"/>
<line x1="283.3" y1="222.8" x2="283.3" y2="226.3" stroke="#000" stroke-width="0.8"/>
<line x1="290.7" y1="222.8" x2="290.7" y2="226.3" stroke="#000" stroke-width="0.8"/>
<line x1="298.1" y1="222.8" x2="298.1" y2="226.3" stroke="#000" stroke-width="0.8"/>
<line x1="305.5" y1="222.8" x2="305.5" y2="226.3" stroke="#000" stroke-width="0.8"/>
<line x1="312.9" y1="222.8" x2="312.9" y2="226.3" stroke="#000" stroke-width="0.8"/>
<line x1="320.3" y1="222.8" x2="320.3" y2="226.3" stroke="#000" stroke-width="0.8"/>
<text x="283.5" y="235.8" font-size="8.4" stroke="#000" stroke-width="0.25" text-anchor="middle">-0.4</text>
<text x="313.2" y="235.8" font-size="8.4" stroke="#000" stroke-width="0.25" text-anchor="middle">0.4</text>
<line x1="338.5" y1="174.3" x2="393.4" y2="174.3" stroke="#e0e0e0" stroke-width="0.8"/>
<line x1="338.5" y1="198.3" x2="393.4" y2="198.3" stroke="#e0e0e0" stroke-width="0.8"/>
<polyline points="339.9,164.1 344.0,164.4 348.9,166.2 353.8,169.8 357.9,175.5 360.3,181.2 362.8,189.3 365.2,198.3 367.6,208.1 369.8,214.6 371.7,213.8 373.7,216.2 375.9,210.5 377.9,219.5 379.5,217.8 381.2,216.2 382.8,213.8 384.4,218.7 386.0,216.2 388.0,217.0 389.6,215.1 391.3,215.4" fill="none" stroke="#d6d6d6" stroke-width="1.5" stroke-linejoin="round"/>
<polyline points="340.3,164.4 344.3,164.9 348.4,166.8 352.5,170.1 356.2,175.0 359.8,181.2 362.7,187.7 365.5,195.0 368.0,202.4 369.6,206.4 370.9,208.5 372.5,206.4 374.1,202.7 375.8,199.1 377.7,199.9 379.7,198.8 381.3,197.1 382.9,199.1 385.1,201.5 386.7,203.2 388.8,204.3 390.4,205.3 391.6,207.2" fill="none" stroke="#2c44a4" stroke-width="1.6" stroke-linejoin="round"/>
<rect x="338.5" y="162.5" width="54.89999999999998" height="60.30000000000001" fill="none" stroke="#a0a0a0" stroke-width="1.5"/>
<line x1="335.0" y1="174.3" x2="338.5" y2="174.3" stroke="#000" stroke-width="0.8"/>
<line x1="335.0" y1="198.3" x2="338.5" y2="198.3" stroke="#000" stroke-width="0.8"/>
<line x1="335.0" y1="222.5" x2="338.5" y2="222.5" stroke="#000" stroke-width="0.8"/>
<line x1="340.0" y1="222.8" x2="340.0" y2="226.3" stroke="#000" stroke-width="0.8"/>
<line x1="347.4" y1="222.8" x2="347.4" y2="226.3" stroke="#000" stroke-width="0.8"/>
<line x1="354.8" y1="222.8" x2="354.8" y2="226.3" stroke="#000" stroke-width="0.8"/>
<line x1="362.2" y1="222.8" x2="362.2" y2="226.3" stroke="#000" stroke-width="0.8"/>
<line x1="369.6" y1="222.8" x2="369.6" y2="226.3" stroke="#000" stroke-width="0.8"/>
<line x1="377.0" y1="222.8" x2="377.0" y2="226.3" stroke="#000" stroke-width="0.8"/>
<line x1="384.4" y1="222.8" x2="384.4" y2="226.3" stroke="#000" stroke-width="0.8"/>
<line x1="391.8" y1="222.8" x2="391.8" y2="226.3" stroke="#000" stroke-width="0.8"/>
<text x="355.0" y="235.8" font-size="8.4" stroke="#000" stroke-width="0.25" text-anchor="middle">-0.4</text>
<text x="384.7" y="235.8" font-size="8.4" stroke="#000" stroke-width="0.25" text-anchor="middle">0.4</text>
<text x="33.3" y="178.7" font-size="8.4" stroke="#000" stroke-width="0.25">10<tspan font-size="5.6" dy="-4.9">5</tspan></text>
<text x="33.3" y="202.7" font-size="8.4" stroke="#000" stroke-width="0.25">10<tspan font-size="5.6" dy="-4.9">4</tspan></text>
<text x="33.3" y="226.7" font-size="8.4" stroke="#000" stroke-width="0.25">10<tspan font-size="5.6" dy="-4.9">3</tspan></text>
<text transform="translate(24.6,223.3) rotate(-90)" font-size="10">intensity (a. u.)</text>
<text x="201.4" y="248.6" font-size="9.9" stroke="#000" stroke-width="0.15">E-E<tspan font-size="7" font-weight="bold" dy="1.2">F</tspan><tspan dx="1.6" dy="-1.2">(eV)</tspan></text>
<rect x="414.2" y="76.2" width="4.6" height="236" fill="url(#cbar)" stroke="#666" stroke-width="0.6"/>
<line x1="413.9" y1="76.4" x2="419.1" y2="76.4" stroke="#000" stroke-width="1"/>
<line x1="413.9" y1="312" x2="419.1" y2="312" stroke="#000" stroke-width="1"/>
<line x1="418.8" y1="311.6" x2="425.8" y2="311.6" stroke="#000" stroke-width="0.8"/>
<text x="429" y="314.8" font-size="9">0</text>
<line x1="418.8" y1="269.1" x2="425.8" y2="269.1" stroke="#000" stroke-width="0.8"/>
<text x="429" y="272.3" font-size="9">1</text>
<line x1="418.8" y1="226.6" x2="425.8" y2="226.6" stroke="#000" stroke-width="0.8"/>
<text x="429" y="229.8" font-size="9">2</text>
<line x1="418.8" y1="184.1" x2="425.8" y2="184.1" stroke="#000" stroke-width="0.8"/>
<text x="429" y="187.3" font-size="9">3</text>
<line x1="418.8" y1="141.6" x2="425.8" y2="141.6" stroke="#000" stroke-width="0.8"/>
<text x="429" y="144.8" font-size="9">4</text>
<line x1="418.8" y1="99.1" x2="425.8" y2="99.1" stroke="#000" stroke-width="0.8"/>
<text x="429" y="102.3" font-size="9">5</text>
<text x="3.2" y="280" font-size="12">(c)</text>
<g clip-path="url(#cc)">
<rect x="48.6" y="274.5" width="139.20000000000002" height="87.30000000000001" fill="url(#cLeft)"/>
<rect x="48.6" y="274.5" width="139.20000000000002" height="87.30000000000001" fill="url(#cRight)" mask="url(#cm)"/>
<rect x="48.6" y="274.5" width="139.20000000000002" height="87.30000000000001" opacity="0.07" filter="url(#strk)"/>
<rect x="48.6" y="274.5" width="139.20000000000002" height="87.30000000000001" opacity="0.12" filter="url(#strkw)"/>
<rect x="104" y="270" width="9" height="34" fill="#000" opacity="0.07" filter="url(#b4)"/>
<ellipse cx="166.0" cy="300.5" rx="26.0" ry="3" fill="#000" opacity="0.28" filter="url(#bh)"/>
<ellipse cx="139.0" cy="297" rx="21.0" ry="2" fill="#000" opacity="0.15" filter="url(#bh)"/>
<ellipse cx="128.5" cy="283" rx="16.5" ry="2" fill="#000" opacity="0.12" filter="url(#bh)"/>
<ellipse cx="175.0" cy="288" rx="17.0" ry="2" fill="#000" opacity="0.12" filter="url(#bh)"/>
<ellipse cx="147.5" cy="306" rx="22.5" ry="1.5" fill="#000" opacity="0.1" filter="url(#bh)"/>
<ellipse cx="108.0" cy="279" rx="10.0" ry="3" fill="#000" opacity="0.12" filter="url(#bh)"/>
<ellipse cx="75.0" cy="290" rx="25.0" ry="2" fill="#fff" opacity="0.15" filter="url(#bh)"/>
<ellipse cx="75.0" cy="300" rx="20.0" ry="2" fill="#fff" opacity="0.12" filter="url(#bh)"/>
<ellipse cx="80.0" cy="281" rx="20.0" ry="1.5" fill="#fff" opacity="0.1" filter="url(#bh)"/>
<ellipse cx="110" cy="317.6" rx="7.5" ry="2.6" fill="#000" opacity="0.7" filter="url(#b2)"/>
<line x1="48.6" y1="321.5" x2="187.8" y2="321.5" stroke="#e0e0e0" stroke-width="1" stroke-dasharray="3.6 3.6"/>
<line x1="125.8" y1="317.4" x2="187.8" y2="317.4" stroke="#e8602c" stroke-width="1.2" stroke-dasharray="3.8 3.4"/>
</g>
<rect x="48.6" y="274.5" width="139.20000000000002" height="87.30000000000001" fill="none" stroke="#5a5a5a" stroke-width="1"/>
<line x1="191" y1="317.3" x2="201" y2="317.3" stroke="#f05a28" stroke-width="1.6"/>
<polygon points="188.8,317.3 194,314.6 194,320" fill="#f05a28"/>
<line x1="191" y1="321.9" x2="201" y2="321.9" stroke="#a8b0ba" stroke-width="1.6"/>
<polygon points="189.2,321.9 194.4,319.2 194.4,324.6" fill="#a8b0ba"/>
<line x1="44" y1="289.6" x2="48" y2="289.6" stroke="#000" stroke-width="0.8"/>
<text x="43" y="292.5" font-size="8.4" stroke="#000" stroke-width="0.25" text-anchor="end">0.5</text>
<line x1="44" y1="313.5" x2="48" y2="313.5" stroke="#000" stroke-width="0.8"/>
<text x="43" y="316.4" font-size="8.4" stroke="#000" stroke-width="0.25" text-anchor="end">0.0</text>
<line x1="44" y1="338.5" x2="48" y2="338.5" stroke="#000" stroke-width="0.8"/>
<text x="43" y="341.4" font-size="8.4" stroke="#000" stroke-width="0.25" text-anchor="end">-0.5</text>
<line x1="44" y1="362.4" x2="48" y2="362.4" stroke="#000" stroke-width="0.8"/>
<text x="43" y="365.3" font-size="8.4" stroke="#000" stroke-width="0.25" text-anchor="end">-1.0</text>
<line x1="69.2" y1="361.8" x2="69.2" y2="365.5" stroke="#000" stroke-width="0.8"/>
<text x="69.2" y="375.6" font-size="8.6" stroke="#000" stroke-width="0.25" text-anchor="middle">-200</text>
<line x1="102.7" y1="361.8" x2="102.7" y2="365.5" stroke="#000" stroke-width="0.8"/>
<text x="102.7" y="375.6" font-size="8.6" stroke="#000" stroke-width="0.25" text-anchor="middle">0</text>
<line x1="134.8" y1="361.8" x2="134.8" y2="365.5" stroke="#000" stroke-width="0.8"/>
<text x="134.8" y="375.6" font-size="8.6" stroke="#000" stroke-width="0.25" text-anchor="middle">200</text>
<line x1="166.8" y1="361.8" x2="166.8" y2="365.5" stroke="#000" stroke-width="0.8"/>
<text x="166.8" y="375.6" font-size="8.6" stroke="#000" stroke-width="0.25" text-anchor="middle">400</text>
<text transform="translate(24.9,339.8) rotate(-90)" font-size="11.2">E-E<tspan font-size="7.6" dy="1.2">F</tspan><tspan dy="-1.2" font-weight="normal">(eV)</tspan></text>
<text x="83.6" y="395.2" font-size="10.8" stroke="#000" stroke-width="0.2">delay time&#160; (fs)</text>
<text x="205" y="280" font-size="12">(d)</text>
<g clip-path="url(#cd)">
<rect x="250.5" y="274.5" width="140.0" height="87.80000000000001" fill="#fff"/>
<ellipse cx="278.5" cy="274.8" rx="5.2" ry="1.0" fill="#000" opacity="0.28" filter="url(#bh2)"/>
<ellipse cx="281.0" cy="279.6" rx="8.0" ry="1.0" fill="#000" opacity="0.45" filter="url(#bh2)"/>
<ellipse cx="287.5" cy="283.9" rx="6.3" ry="1.0" fill="#000" opacity="0.8" filter="url(#bh2)"/>
<ellipse cx="265.8" cy="286.8" rx="7.1" ry="1.0" fill="#000" opacity="0.6" filter="url(#bh2)"/>
<ellipse cx="282.5" cy="287" rx="9.8" ry="1.0" fill="#000" opacity="0.8" filter="url(#bh2)"/>
<ellipse cx="307.4" cy="282" rx="14.5" ry="1.0" fill="#000" opacity="0.45" filter="url(#bh2)"/>
<ellipse cx="254.8" cy="291.9" rx="5.5" ry="1.0" fill="#000" opacity="0.8" filter="url(#bh2)"/>
<ellipse cx="274.0" cy="293" rx="9.2" ry="1.0" fill="#000" opacity="0.6" filter="url(#bh2)"/>
<ellipse cx="297.0" cy="291.5" rx="8.0" ry="1.0" fill="#000" opacity="0.8" filter="url(#bh2)"/>
<ellipse cx="307.4" cy="297" rx="14.5" ry="1.0" fill="#000" opacity="0.8" filter="url(#bh2)"/>
<ellipse cx="259.5" cy="301" rx="10.9" ry="1.0" fill="#000" opacity="1.0" filter="url(#bh2)"/>
<ellipse cx="289.9" cy="301" rx="12.8" ry="1.0" fill="#000" opacity="0.6" filter="url(#bh2)"/>
<ellipse cx="272.4" cy="308.3" rx="9.6" ry="1.5" fill="#000" filter="url(#bh2)"/>
<ellipse cx="273.4" cy="308.3" rx="4.3" ry="0.8" fill="#222c88" opacity="0.85" filter="url(#b05)"/>
<ellipse cx="256.4" cy="310.7" rx="7.4" ry="1.0" fill="#000" opacity="0.45" filter="url(#bh2)"/>
<ellipse cx="291.5" cy="313.9" rx="10.9" ry="1.0" fill="#000" opacity="0.45" filter="url(#bh2)"/>
<ellipse cx="259.5" cy="315.5" rx="10.9" ry="1.0" fill="#000" opacity="0.45" filter="url(#bh2)"/>
<ellipse cx="262.8" cy="324.4" rx="9.1" ry="1.0" fill="#000" opacity="0.6" filter="url(#bh2)"/>
<ellipse cx="287.4" cy="322.5" rx="8.5" ry="1.0" fill="#000" opacity="0.8" filter="url(#bh2)"/>
<ellipse cx="286.7" cy="327.2" rx="9.2" ry="1.0" fill="#000" opacity="0.45" filter="url(#bh2)"/>
<ellipse cx="308.9" cy="327.6" rx="12.8" ry="1.0" fill="#000" opacity="0.8" filter="url(#bh2)"/>
<ellipse cx="258.0" cy="330" rx="9.2" ry="1.0" fill="#000" opacity="0.6" filter="url(#bh2)"/>
<ellipse cx="286.7" cy="332" rx="9.2" ry="1.0" fill="#000" opacity="0.45" filter="url(#bh2)"/>
<ellipse cx="266.7" cy="334.7" rx="11.8" ry="1.0" fill="#000" opacity="0.8" filter="url(#bh2)"/>
<ellipse cx="296.3" cy="335.5" rx="7.2" ry="1.0" fill="#000" opacity="0.8" filter="url(#bh2)"/>
<ellipse cx="255.5" cy="342" rx="6.3" ry="1.0" fill="#000" opacity="1.0" filter="url(#bh2)"/>
<ellipse cx="284.2" cy="338.4" rx="8.3" ry="1.0" fill="#000" opacity="0.8" filter="url(#bh2)"/>
<ellipse cx="311.3" cy="340.3" rx="10.0" ry="1.0" fill="#000" opacity="0.45" filter="url(#bh2)"/>
<ellipse cx="282.5" cy="348.3" rx="12.1" ry="1.0" fill="#000" opacity="1.0" filter="url(#bh2)"/>
<ellipse cx="311.3" cy="346.7" rx="10.0" ry="1.0" fill="#000" opacity="0.8" filter="url(#bh2)"/>
<ellipse cx="265.8" cy="350.7" rx="7.1" ry="1.0" fill="#000" opacity="0.45" filter="url(#bh2)"/>
<ellipse cx="298.7" cy="350.7" rx="10.0" ry="1.0" fill="#000" opacity="0.45" filter="url(#bh2)"/>
<ellipse cx="282.8" cy="356.3" rx="10.1" ry="1.0" fill="#000" opacity="0.45" filter="url(#bh2)"/>
<ellipse cx="308.9" cy="356.3" rx="12.8" ry="1.0" fill="#000" opacity="0.6" filter="url(#bh2)"/>
<ellipse cx="256.4" cy="360.3" rx="7.4" ry="1.0" fill="#000" opacity="0.45" filter="url(#bh2)"/>
<ellipse cx="328.0" cy="275.3" rx="9.2" ry="1.0" fill="#000" opacity="0.45" filter="url(#bh2)"/>
<ellipse cx="344.0" cy="280.5" rx="9.2" ry="1.0" fill="#000" opacity="0.8" filter="url(#bh2)"/>
<ellipse cx="364.5" cy="278.9" rx="10.2" ry="1.0" fill="#000" opacity="0.45" filter="url(#bh2)"/>
<ellipse cx="382.2" cy="278" rx="10.1" ry="1.0" fill="#000" opacity="0.28" filter="url(#bh2)"/>
<ellipse cx="329.7" cy="284" rx="11.2" ry="1.0" fill="#000" opacity="0.45" filter="url(#bh2)"/>
<ellipse cx="350.7" cy="286" rx="13.0" ry="1.0" fill="#000" opacity="0.45" filter="url(#bh2)"/>
<ellipse cx="368.5" cy="290.2" rx="4.8" ry="1.5" fill="#000" filter="url(#bh2)"/>
<ellipse cx="369.5" cy="290.2" rx="2.2" ry="0.8" fill="#222c88" opacity="0.85" filter="url(#b05)"/>
<ellipse cx="382.2" cy="288.6" rx="10.1" ry="1.0" fill="#000" opacity="0.8" filter="url(#bh2)"/>
<ellipse cx="329.7" cy="292.6" rx="11.2" ry="1.0" fill="#000" opacity="0.45" filter="url(#bh2)"/>
<ellipse cx="350.5" cy="294.2" rx="7.5" ry="1.0" fill="#000" opacity="0.45" filter="url(#bh2)"/>
<ellipse cx="374.9" cy="294.7" rx="11.3" ry="1.0" fill="#000" opacity="0.8" filter="url(#bh2)"/>
<ellipse cx="323.2" cy="298.3" rx="3.7" ry="1.0" fill="#000" opacity="0.8" filter="url(#bh2)"/>
<ellipse cx="329.8" cy="301.5" rx="4.8" ry="1.5" fill="#000" filter="url(#bh2)"/>
<ellipse cx="330.8" cy="301.5" rx="2.2" ry="0.8" fill="#222c88" opacity="0.85" filter="url(#b05)"/>
<ellipse cx="350.7" cy="300" rx="13.0" ry="1.0" fill="#000" opacity="0.45" filter="url(#bh2)"/>
<ellipse cx="382.2" cy="303" rx="8.8" ry="1.5" fill="#000" filter="url(#bh2)"/>
<ellipse cx="383.2" cy="303" rx="4.0" ry="0.8" fill="#222c88" opacity="0.85" filter="url(#b05)"/>
<ellipse cx="341.0" cy="306.4" rx="13.1" ry="1.0" fill="#000" opacity="0.45" filter="url(#bh2)"/>
<ellipse cx="365.2" cy="308" rx="9.4" ry="1.0" fill="#000" opacity="0.45" filter="url(#bh2)"/>
<ellipse cx="345.8" cy="313.6" rx="11.3" ry="1.0" fill="#000" opacity="1.0" filter="url(#bh2)"/>
<ellipse cx="376.5" cy="312.8" rx="16.7" ry="1.0" fill="#000" opacity="0.6" filter="url(#bh2)"/>
<ellipse cx="329.7" cy="327.7" rx="11.2" ry="1.0" fill="#000" opacity="0.8" filter="url(#bh2)"/>
<ellipse cx="362.1" cy="326.9" rx="11.2" ry="1.0" fill="#000" opacity="0.45" filter="url(#bh2)"/>
<ellipse cx="386.2" cy="332.6" rx="5.5" ry="1.0" fill="#000" opacity="1.0" filter="url(#bh2)"/>
<ellipse cx="324.9" cy="334.2" rx="5.6" ry="1.0" fill="#000" opacity="1.0" filter="url(#bh2)"/>
<ellipse cx="341.0" cy="335.8" rx="13.1" ry="1.0" fill="#000" opacity="0.45" filter="url(#bh2)"/>
<ellipse cx="371.0" cy="334.2" rx="12.1" ry="1.0" fill="#000" opacity="0.45" filter="url(#bh2)"/>
<ellipse cx="344.2" cy="339.8" rx="9.4" ry="1.0" fill="#000" opacity="0.8" filter="url(#bh2)"/>
<ellipse cx="353.1" cy="343" rx="14.0" ry="1.0" fill="#000" opacity="0.6" filter="url(#bh2)"/>
<ellipse cx="378.2" cy="344" rx="11.2" ry="1.0" fill="#000" opacity="0.45" filter="url(#bh2)"/>
<ellipse cx="328.0" cy="347" rx="9.2" ry="1.0" fill="#000" opacity="0.45" filter="url(#bh2)"/>
<ellipse cx="356.4" cy="351.2" rx="10.2" ry="1.0" fill="#000" opacity="1.0" filter="url(#bh2)"/>
<ellipse cx="376.6" cy="352" rx="4.8" ry="1.5" fill="#000" filter="url(#bh2)"/>
<ellipse cx="377.6" cy="352" rx="2.2" ry="0.8" fill="#222c88" opacity="0.85" filter="url(#b05)"/>
<ellipse cx="326.5" cy="356.8" rx="7.5" ry="1.0" fill="#000" opacity="0.8" filter="url(#bh2)"/>
<ellipse cx="368.6" cy="356.8" rx="9.3" ry="1.0" fill="#000" opacity="0.6" filter="url(#bh2)"/>
<ellipse cx="386.2" cy="354.4" rx="5.5" ry="1.0" fill="#000" opacity="0.45" filter="url(#bh2)"/>
<ellipse cx="348.2" cy="360.4" rx="14.1" ry="1.0" fill="#000" opacity="0.45" filter="url(#bh2)"/>
<ellipse cx="308.4" cy="323.6" rx="13.2" ry="0.7" fill="#000" opacity="0.22" filter="url(#bh2)"/>
<ellipse cx="316.7" cy="326.1" rx="5.8" ry="0.7" fill="#000" opacity="0.23" filter="url(#bh2)"/>
<ellipse cx="335.0" cy="344.1" rx="4.9" ry="0.7" fill="#000" opacity="0.19" filter="url(#bh2)"/>
<ellipse cx="254.1" cy="345.6" rx="10.9" ry="0.7" fill="#000" opacity="0.13" filter="url(#bh2)"/>
<ellipse cx="387.8" cy="359.2" rx="10.5" ry="0.7" fill="#000" opacity="0.26" filter="url(#bh2)"/>
<ellipse cx="264.1" cy="275.8" rx="9.3" ry="0.7" fill="#000" opacity="0.13" filter="url(#bh2)"/>
<ellipse cx="269.0" cy="295.7" rx="4.3" ry="0.7" fill="#000" opacity="0.22" filter="url(#bh2)"/>
<ellipse cx="306.6" cy="348.5" rx="9.2" ry="0.7" fill="#000" opacity="0.26" filter="url(#bh2)"/>
<ellipse cx="315.5" cy="332.7" rx="8.6" ry="0.7" fill="#000" opacity="0.18" filter="url(#bh2)"/>
<ellipse cx="390.1" cy="361.9" rx="12.4" ry="0.7" fill="#000" opacity="0.28" filter="url(#bh2)"/>
<ellipse cx="287.8" cy="294.7" rx="6.9" ry="0.7" fill="#000" opacity="0.14" filter="url(#bh2)"/>
<ellipse cx="355.4" cy="309.7" rx="12.5" ry="0.7" fill="#000" opacity="0.21" filter="url(#bh2)"/>
<ellipse cx="384.2" cy="348.9" rx="4.0" ry="0.7" fill="#000" opacity="0.17" filter="url(#bh2)"/>
<ellipse cx="377.0" cy="315.8" rx="13.8" ry="0.7" fill="#000" opacity="0.21" filter="url(#bh2)"/>
<ellipse cx="251.5" cy="329.8" rx="11.8" ry="0.7" fill="#000" opacity="0.18" filter="url(#bh2)"/>
<ellipse cx="253.6" cy="303.7" rx="13.6" ry="0.7" fill="#000" opacity="0.29" filter="url(#bh2)"/>
<ellipse cx="258.2" cy="296.1" rx="5.0" ry="0.7" fill="#000" opacity="0.13" filter="url(#bh2)"/>
<ellipse cx="360.1" cy="290.1" rx="9.6" ry="0.7" fill="#000" opacity="0.22" filter="url(#bh2)"/>
<ellipse cx="269.1" cy="338.8" rx="5.3" ry="0.7" fill="#000" opacity="0.26" filter="url(#bh2)"/>
<ellipse cx="258.0" cy="311.4" rx="6.1" ry="0.7" fill="#000" opacity="0.18" filter="url(#bh2)"/>
<ellipse cx="386.1" cy="345.0" rx="7.0" ry="0.7" fill="#000" opacity="0.31" filter="url(#bh2)"/>
<ellipse cx="272.1" cy="309.1" rx="12.5" ry="0.7" fill="#000" opacity="0.26" filter="url(#bh2)"/>
<ellipse cx="255.5" cy="361.4" rx="6.1" ry="0.7" fill="#000" opacity="0.18" filter="url(#bh2)"/>
<ellipse cx="356.4" cy="303.4" rx="7.0" ry="0.7" fill="#000" opacity="0.14" filter="url(#bh2)"/>
<ellipse cx="254.0" cy="325.7" rx="6.4" ry="0.7" fill="#000" opacity="0.25" filter="url(#bh2)"/>
<ellipse cx="296.3" cy="314.3" rx="13.6" ry="0.7" fill="#000" opacity="0.23" filter="url(#bh2)"/>
<ellipse cx="326.7" cy="350.6" rx="5.8" ry="0.7" fill="#000" opacity="0.15" filter="url(#bh2)"/>
<ellipse cx="376.8" cy="346.3" rx="6.5" ry="0.7" fill="#000" opacity="0.16" filter="url(#bh2)"/>
<ellipse cx="351.4" cy="357.1" rx="6.0" ry="0.7" fill="#000" opacity="0.33" filter="url(#bh2)"/>
<ellipse cx="372.8" cy="327.5" rx="8.2" ry="0.7" fill="#000" opacity="0.14" filter="url(#bh2)"/>
<ellipse cx="246.3" cy="359.0" rx="6.4" ry="0.7" fill="#000" opacity="0.28" filter="url(#bh2)"/>
<ellipse cx="279.0" cy="346.8" rx="10.0" ry="0.7" fill="#000" opacity="0.18" filter="url(#bh2)"/>
<ellipse cx="266.8" cy="337.7" rx="4.7" ry="0.7" fill="#000" opacity="0.17" filter="url(#bh2)"/>
<ellipse cx="324.4" cy="349.3" rx="10.1" ry="0.7" fill="#000" opacity="0.18" filter="url(#bh2)"/>
<ellipse cx="378.1" cy="292.4" rx="4.2" ry="0.7" fill="#000" opacity="0.18" filter="url(#bh2)"/>
<ellipse cx="307.4" cy="279.8" rx="5.8" ry="0.7" fill="#000" opacity="0.20" filter="url(#bh2)"/>
<ellipse cx="326.3" cy="286.1" rx="7.6" ry="0.7" fill="#000" opacity="0.32" filter="url(#bh2)"/>
<ellipse cx="387.6" cy="332.2" rx="10.9" ry="0.7" fill="#000" opacity="0.25" filter="url(#bh2)"/>
<ellipse cx="261.6" cy="277.6" rx="4.2" ry="0.7" fill="#000" opacity="0.32" filter="url(#bh2)"/>
<ellipse cx="345.6" cy="359.0" rx="4.2" ry="0.7" fill="#000" opacity="0.26" filter="url(#bh2)"/>
<ellipse cx="312.8" cy="338.6" rx="7.2" ry="0.7" fill="#000" opacity="0.34" filter="url(#bh2)"/>
<ellipse cx="251.8" cy="322.4" rx="11.4" ry="0.7" fill="#000" opacity="0.32" filter="url(#bh2)"/>
<ellipse cx="351.1" cy="336.3" rx="11.9" ry="0.7" fill="#000" opacity="0.32" filter="url(#bh2)"/>
<ellipse cx="293.3" cy="334.7" rx="13.0" ry="0.7" fill="#000" opacity="0.31" filter="url(#bh2)"/>
<ellipse cx="303.1" cy="343.9" rx="12.6" ry="0.7" fill="#000" opacity="0.25" filter="url(#bh2)"/>
<ellipse cx="334.2" cy="308.1" rx="9.8" ry="0.7" fill="#000" opacity="0.25" filter="url(#bh2)"/>
<ellipse cx="252.5" cy="330.6" rx="13.9" ry="0.7" fill="#000" opacity="0.31" filter="url(#bh2)"/>
<ellipse cx="349.7" cy="308.6" rx="11.4" ry="0.7" fill="#000" opacity="0.25" filter="url(#bh2)"/>
<ellipse cx="306.6" cy="348.1" rx="4.8" ry="0.7" fill="#000" opacity="0.29" filter="url(#bh2)"/>
<ellipse cx="245.0" cy="327.3" rx="8.8" ry="0.7" fill="#000" opacity="0.17" filter="url(#bh2)"/>
<ellipse cx="345.3" cy="318.2" rx="10.1" ry="0.7" fill="#000" opacity="0.32" filter="url(#bh2)"/>
<ellipse cx="278.9" cy="275.5" rx="7.0" ry="0.7" fill="#000" opacity="0.27" filter="url(#bh2)"/>
<ellipse cx="270.9" cy="289.4" rx="13.1" ry="0.7" fill="#000" opacity="0.27" filter="url(#bh2)"/>
<ellipse cx="306.8" cy="352.8" rx="7.3" ry="0.7" fill="#000" opacity="0.27" filter="url(#bh2)"/>
<ellipse cx="270.3" cy="312.3" rx="12.1" ry="0.7" fill="#000" opacity="0.32" filter="url(#bh2)"/>
<ellipse cx="372.5" cy="308.3" rx="9.8" ry="0.7" fill="#000" opacity="0.19" filter="url(#bh2)"/>
<ellipse cx="260.9" cy="318.1" rx="12.4" ry="0.7" fill="#000" opacity="0.31" filter="url(#bh2)"/>
<ellipse cx="347.2" cy="357.9" rx="6.8" ry="0.7" fill="#000" opacity="0.16" filter="url(#bh2)"/>
<ellipse cx="308.1" cy="298.7" rx="6.1" ry="0.7" fill="#000" opacity="0.21" filter="url(#bh2)"/>
<ellipse cx="334.4" cy="317.9" rx="7.2" ry="0.7" fill="#000" opacity="0.30" filter="url(#bh2)"/>
<ellipse cx="387.8" cy="314.2" rx="4.7" ry="0.7" fill="#000" opacity="0.13" filter="url(#bh2)"/>
<ellipse cx="371.4" cy="278.1" rx="11.1" ry="0.7" fill="#000" opacity="0.25" filter="url(#bh2)"/>
<ellipse cx="286.9" cy="344.0" rx="4.2" ry="0.7" fill="#000" opacity="0.15" filter="url(#bh2)"/>
<ellipse cx="308.7" cy="276.7" rx="12.3" ry="0.7" fill="#000" opacity="0.17" filter="url(#bh2)"/>
<ellipse cx="261.6" cy="278.6" rx="10.3" ry="0.7" fill="#000" opacity="0.22" filter="url(#bh2)"/>
<ellipse cx="335.0" cy="332.0" rx="12.1" ry="0.7" fill="#000" opacity="0.33" filter="url(#bh2)"/>
<ellipse cx="343.2" cy="292.0" rx="8.8" ry="0.7" fill="#000" opacity="0.16" filter="url(#bh2)"/>
<ellipse cx="242.1" cy="316.0" rx="11.1" ry="0.7" fill="#000" opacity="0.16" filter="url(#bh2)"/>
<ellipse cx="281.4" cy="304.9" rx="11.0" ry="0.7" fill="#000" opacity="0.23" filter="url(#bh2)"/>
<ellipse cx="332.7" cy="340.9" rx="7.9" ry="0.7" fill="#000" opacity="0.29" filter="url(#bh2)"/>
<ellipse cx="376.4" cy="282.2" rx="13.3" ry="0.7" fill="#000" opacity="0.28" filter="url(#bh2)"/>
<ellipse cx="260.0" cy="314.3" rx="10.3" ry="0.7" fill="#000" opacity="0.32" filter="url(#bh2)"/>
<ellipse cx="297.0" cy="324.4" rx="12.8" ry="0.7" fill="#000" opacity="0.30" filter="url(#bh2)"/>
<ellipse cx="382.1" cy="315.2" rx="10.5" ry="0.7" fill="#000" opacity="0.17" filter="url(#bh2)"/>
<ellipse cx="348.8" cy="346.4" rx="10.4" ry="0.7" fill="#000" opacity="0.28" filter="url(#bh2)"/>
<ellipse cx="272.5" cy="353.5" rx="13.8" ry="0.7" fill="#000" opacity="0.34" filter="url(#bh2)"/>
<ellipse cx="321.0" cy="343.9" rx="7.2" ry="0.7" fill="#000" opacity="0.32" filter="url(#bh2)"/>
<ellipse cx="368.9" cy="305.1" rx="4.8" ry="0.7" fill="#000" opacity="0.22" filter="url(#bh2)"/>
<ellipse cx="323.0" cy="342.0" rx="8.9" ry="0.7" fill="#000" opacity="0.13" filter="url(#bh2)"/>
<ellipse cx="361.9" cy="280.1" rx="12.0" ry="0.7" fill="#000" opacity="0.16" filter="url(#bh2)"/>
<ellipse cx="290.8" cy="343.7" rx="5.4" ry="0.7" fill="#000" opacity="0.15" filter="url(#bh2)"/>
<ellipse cx="318.0" cy="338.0" rx="12.4" ry="0.7" fill="#000" opacity="0.27" filter="url(#bh2)"/>
<ellipse cx="382.4" cy="317.7" rx="13.5" ry="0.7" fill="#000" opacity="0.14" filter="url(#bh2)"/>
<ellipse cx="273.7" cy="320.7" rx="6.9" ry="0.7" fill="#000" opacity="0.28" filter="url(#bh2)"/>
<ellipse cx="336.3" cy="320.4" rx="12.4" ry="0.7" fill="#000" opacity="0.24" filter="url(#bh2)"/>
<ellipse cx="287.3" cy="308.0" rx="12.5" ry="0.7" fill="#000" opacity="0.32" filter="url(#bh2)"/>
<ellipse cx="271.7" cy="349.2" rx="13.7" ry="0.7" fill="#000" opacity="0.24" filter="url(#bh2)"/>
<ellipse cx="326.4" cy="292.1" rx="9.4" ry="0.7" fill="#000" opacity="0.23" filter="url(#bh2)"/>
<ellipse cx="331.3" cy="276.9" rx="13.7" ry="0.7" fill="#000" opacity="0.23" filter="url(#bh2)"/>
<ellipse cx="300.6" cy="344.8" rx="9.6" ry="0.7" fill="#000" opacity="0.23" filter="url(#bh2)"/>
<ellipse cx="344.1" cy="280.3" rx="9.4" ry="0.7" fill="#000" opacity="0.21" filter="url(#bh2)"/>
<ellipse cx="384.0" cy="355.6" rx="6.7" ry="0.7" fill="#000" opacity="0.22" filter="url(#bh2)"/>
<ellipse cx="259.5" cy="312.6" rx="12.2" ry="0.7" fill="#000" opacity="0.32" filter="url(#bh2)"/>
<ellipse cx="312.0" cy="302.4" rx="5.9" ry="0.7" fill="#000" opacity="0.26" filter="url(#bh2)"/>
<ellipse cx="379.3" cy="285.9" rx="11.8" ry="0.7" fill="#000" opacity="0.13" filter="url(#bh2)"/>
<ellipse cx="269.6" cy="294.5" rx="10.9" ry="0.7" fill="#000" opacity="0.19" filter="url(#bh2)"/>
<ellipse cx="293.8" cy="328.9" rx="5.0" ry="0.7" fill="#000" opacity="0.28" filter="url(#bh2)"/>
<ellipse cx="258.9" cy="319.3" rx="6.5" ry="0.7" fill="#000" opacity="0.16" filter="url(#bh2)"/>
<ellipse cx="320.1" cy="312.8" rx="7.8" ry="0.7" fill="#000" opacity="0.21" filter="url(#bh2)"/>
<ellipse cx="319.9" cy="288.5" rx="6.0" ry="0.7" fill="#000" opacity="0.26" filter="url(#bh2)"/>
<ellipse cx="336.3" cy="321.0" rx="12.5" ry="0.7" fill="#000" opacity="0.25" filter="url(#bh2)"/>
<ellipse cx="369.0" cy="294.9" rx="11.4" ry="0.7" fill="#000" opacity="0.30" filter="url(#bh2)"/>
<ellipse cx="375.9" cy="302.2" rx="7.1" ry="0.7" fill="#000" opacity="0.32" filter="url(#bh2)"/>
<ellipse cx="273.2" cy="362.2" rx="12.9" ry="0.7" fill="#000" opacity="0.15" filter="url(#bh2)"/>
<ellipse cx="276.4" cy="338.3" rx="6.6" ry="0.7" fill="#000" opacity="0.14" filter="url(#bh2)"/>
<ellipse cx="365.3" cy="311.5" rx="11.9" ry="0.7" fill="#000" opacity="0.15" filter="url(#bh2)"/>
<ellipse cx="300.9" cy="334.7" rx="4.2" ry="0.7" fill="#000" opacity="0.16" filter="url(#bh2)"/>
<ellipse cx="342.9" cy="354.5" rx="13.7" ry="0.7" fill="#000" opacity="0.15" filter="url(#bh2)"/>
<ellipse cx="316.4" cy="341.1" rx="9.0" ry="0.7" fill="#000" opacity="0.27" filter="url(#bh2)"/>
<ellipse cx="268.9" cy="280.7" rx="5.1" ry="0.7" fill="#000" opacity="0.13" filter="url(#bh2)"/>
<ellipse cx="323.3" cy="319.7" rx="9.7" ry="0.7" fill="#000" opacity="0.15" filter="url(#bh2)"/>
<ellipse cx="268.2" cy="292.4" rx="12.4" ry="0.7" fill="#000" opacity="0.34" filter="url(#bh2)"/>
<ellipse cx="379.5" cy="282.9" rx="4.6" ry="0.7" fill="#000" opacity="0.33" filter="url(#bh2)"/>
<ellipse cx="309.8" cy="341.6" rx="7.3" ry="0.7" fill="#000" opacity="0.22" filter="url(#bh2)"/>
<ellipse cx="317.8" cy="312.3" rx="10.0" ry="0.7" fill="#000" opacity="0.12" filter="url(#bh2)"/>
<ellipse cx="345.7" cy="348.6" rx="5.8" ry="0.7" fill="#000" opacity="0.22" filter="url(#bh2)"/>
<ellipse cx="351.4" cy="310.1" rx="6.0" ry="0.7" fill="#000" opacity="0.16" filter="url(#bh2)"/>
<ellipse cx="317.4" cy="275.9" rx="12.9" ry="0.7" fill="#000" opacity="0.30" filter="url(#bh2)"/>
<ellipse cx="346.2" cy="350.1" rx="10.3" ry="0.7" fill="#000" opacity="0.21" filter="url(#bh2)"/>
<ellipse cx="330.4" cy="318.8" rx="13.8" ry="0.7" fill="#000" opacity="0.30" filter="url(#bh2)"/>
<ellipse cx="279.2" cy="354.5" rx="11.4" ry="0.7" fill="#000" opacity="0.29" filter="url(#bh2)"/>
<ellipse cx="362.7" cy="310.1" rx="13.0" ry="0.7" fill="#000" opacity="0.31" filter="url(#bh2)"/>
<ellipse cx="344.7" cy="341.9" rx="11.7" ry="0.7" fill="#000" opacity="0.21" filter="url(#bh2)"/>
<ellipse cx="348.9" cy="280.7" rx="7.4" ry="0.7" fill="#000" opacity="0.22" filter="url(#bh2)"/>
<ellipse cx="242.1" cy="305.7" rx="10.4" ry="0.7" fill="#000" opacity="0.26" filter="url(#bh2)"/>
<ellipse cx="275.3" cy="357.4" rx="10.7" ry="0.7" fill="#000" opacity="0.19" filter="url(#bh2)"/>
<ellipse cx="339.5" cy="324.5" rx="9.3" ry="0.7" fill="#000" opacity="0.21" filter="url(#bh2)"/>
<ellipse cx="390.5" cy="330.9" rx="11.0" ry="0.7" fill="#000" opacity="0.29" filter="url(#bh2)"/>
<ellipse cx="387.5" cy="276.5" rx="10.2" ry="0.7" fill="#000" opacity="0.28" filter="url(#bh2)"/>
<ellipse cx="279.0" cy="309.8" rx="4.5" ry="0.7" fill="#000" opacity="0.16" filter="url(#bh2)"/>
<ellipse cx="296.9" cy="283.1" rx="6.5" ry="0.7" fill="#000" opacity="0.32" filter="url(#bh2)"/>
<ellipse cx="323.0" cy="319.1" rx="13.7" ry="0.7" fill="#000" opacity="0.24" filter="url(#bh2)"/>
<ellipse cx="389.8" cy="330.5" rx="12.1" ry="0.7" fill="#000" opacity="0.14" filter="url(#bh2)"/>
<ellipse cx="330.1" cy="341.2" rx="4.5" ry="0.7" fill="#000" opacity="0.32" filter="url(#bh2)"/>
<ellipse cx="264.5" cy="315.9" rx="5.7" ry="0.7" fill="#000" opacity="0.23" filter="url(#bh2)"/>
<ellipse cx="332.2" cy="279.6" rx="13.5" ry="0.7" fill="#000" opacity="0.21" filter="url(#bh2)"/>
<ellipse cx="319.5" cy="327.0" rx="7.7" ry="0.7" fill="#000" opacity="0.18" filter="url(#bh2)"/>
<ellipse cx="338.8" cy="323.7" rx="6.8" ry="0.7" fill="#000" opacity="0.28" filter="url(#bh2)"/>
<ellipse cx="284.9" cy="275.7" rx="6.5" ry="0.7" fill="#000" opacity="0.13" filter="url(#bh2)"/>
<ellipse cx="264.0" cy="340.8" rx="7.9" ry="0.7" fill="#000" opacity="0.32" filter="url(#bh2)"/>
<ellipse cx="352.8" cy="278.9" rx="13.9" ry="0.7" fill="#000" opacity="0.33" filter="url(#bh2)"/>
<ellipse cx="251.5" cy="354.0" rx="8.3" ry="0.7" fill="#000" opacity="0.23" filter="url(#bh2)"/>
<ellipse cx="386.5" cy="295.9" rx="9.2" ry="0.7" fill="#000" opacity="0.33" filter="url(#bh2)"/>
<ellipse cx="348.9" cy="315.6" rx="13.8" ry="0.7" fill="#000" opacity="0.30" filter="url(#bh2)"/>
<ellipse cx="331.0" cy="284.6" rx="10.2" ry="0.7" fill="#000" opacity="0.22" filter="url(#bh2)"/>
<ellipse cx="271.0" cy="279.1" rx="9.3" ry="0.7" fill="#000" opacity="0.15" filter="url(#bh2)"/>
<ellipse cx="306.9" cy="333.1" rx="8.6" ry="0.7" fill="#000" opacity="0.18" filter="url(#bh2)"/>
<ellipse cx="327.8" cy="311.3" rx="11.8" ry="0.7" fill="#000" opacity="0.24" filter="url(#bh2)"/>
<ellipse cx="390.1" cy="358.1" rx="11.3" ry="0.7" fill="#000" opacity="0.17" filter="url(#bh2)"/>
<ellipse cx="257.6" cy="352.9" rx="11.8" ry="0.7" fill="#000" opacity="0.26" filter="url(#bh2)"/>
<ellipse cx="294.4" cy="298.3" rx="10.9" ry="0.7" fill="#000" opacity="0.24" filter="url(#bh2)"/>
<ellipse cx="329.3" cy="330.1" rx="11.5" ry="0.7" fill="#000" opacity="0.16" filter="url(#bh2)"/>
<ellipse cx="277.8" cy="360.5" rx="13.2" ry="0.7" fill="#000" opacity="0.31" filter="url(#bh2)"/>
<ellipse cx="246.4" cy="279.8" rx="6.7" ry="0.7" fill="#000" opacity="0.21" filter="url(#bh2)"/>
<ellipse cx="334.0" cy="283.5" rx="9.4" ry="0.7" fill="#000" opacity="0.14" filter="url(#bh2)"/>
<ellipse cx="253.5" cy="333.9" rx="9.5" ry="0.7" fill="#000" opacity="0.26" filter="url(#bh2)"/>
<ellipse cx="296.5" cy="316.5" rx="6.1" ry="0.7" fill="#000" opacity="0.20" filter="url(#bh2)"/>
<ellipse cx="352.2" cy="348.1" rx="4.7" ry="0.7" fill="#000" opacity="0.15" filter="url(#bh2)"/>
<ellipse cx="361.9" cy="329.3" rx="11.7" ry="0.7" fill="#000" opacity="0.17" filter="url(#bh2)"/>
<ellipse cx="304.2" cy="297.2" rx="12.1" ry="0.7" fill="#000" opacity="0.20" filter="url(#bh2)"/>
<ellipse cx="338.5" cy="361.4" rx="7.3" ry="0.7" fill="#000" opacity="0.24" filter="url(#bh2)"/>
<ellipse cx="352.4" cy="355.3" rx="8.3" ry="0.7" fill="#000" opacity="0.20" filter="url(#bh2)"/>
<ellipse cx="255.1" cy="351.3" rx="4.8" ry="0.7" fill="#000" opacity="0.14" filter="url(#bh2)"/>
<ellipse cx="325.1" cy="317.1" rx="10.9" ry="0.7" fill="#000" opacity="0.19" filter="url(#bh2)"/>
<ellipse cx="356.8" cy="281.2" rx="6.1" ry="0.7" fill="#000" opacity="0.27" filter="url(#bh2)"/>
<ellipse cx="252.8" cy="301.2" rx="11.2" ry="0.7" fill="#000" opacity="0.27" filter="url(#bh2)"/>
<ellipse cx="282.9" cy="287.0" rx="7.6" ry="0.7" fill="#000" opacity="0.28" filter="url(#bh2)"/>
<ellipse cx="295.5" cy="284.8" rx="11.1" ry="0.7" fill="#000" opacity="0.25" filter="url(#bh2)"/>
<ellipse cx="378.3" cy="357.0" rx="13.1" ry="0.7" fill="#000" opacity="0.22" filter="url(#bh2)"/>
<ellipse cx="361.0" cy="301.3" rx="7.2" ry="0.7" fill="#000" opacity="0.21" filter="url(#bh2)"/>
<path d="M296,319.5 Q306,313.5 322,314.5 L392,315.5 L392,325 L322,325.5 Q306,326.5 296,321 Z" fill="#000" opacity="0.7" filter="url(#b2)"/>
<ellipse cx="315.0" cy="314.8" rx="17.0" ry="1.2" fill="#000" opacity="0.75" filter="url(#bh2)"/>
<ellipse cx="335.0" cy="316" rx="17.0" ry="1.2" fill="#000" opacity="0.55" filter="url(#bh2)"/>
<ellipse cx="337.5" cy="324.2" rx="27.5" ry="1.2" fill="#000" opacity="0.8" filter="url(#bh2)"/>
<ellipse cx="373.5" cy="324.8" rx="18.5" ry="1.2" fill="#000" opacity="0.6" filter="url(#bh2)"/>
<ellipse cx="363.5" cy="315.2" rx="28.5" ry="1.2" fill="#000" opacity="0.45" filter="url(#bh2)"/>
<path d="M307,319.3 Q317,316.8 333,317.4 L392,317.6 L392,322.6 L333,322.3 Q317,322.8 307,320.3 Z" fill="#2a3898" filter="url(#b05)"/>
<ellipse cx="328.0" cy="318.4" rx="14.0" ry="1.0" fill="#141a60" opacity="0.8" filter="url(#bh2)"/>
<ellipse cx="351.0" cy="321.4" rx="15.0" ry="1.0" fill="#141a60" opacity="0.7" filter="url(#bh2)"/>
<ellipse cx="373.5" cy="319.2" rx="18.5" ry="1.0" fill="#3444ac" opacity="0.8" filter="url(#bh2)"/>
<ellipse cx="335.0" cy="320.4" rx="15.0" ry="1.0" fill="#3242a8" opacity="0.7" filter="url(#bh2)"/>
</g>
<rect x="250.5" y="274.5" width="140.0" height="87.80000000000001" fill="none" stroke="#6a6a6a" stroke-width="1"/>
<line x1="250.0" y1="274.5" x2="391.0" y2="274.5" stroke="#000" stroke-width="1.1"/>
<line x1="244.6" y1="276.7" x2="250.3" y2="276.7" stroke="#000" stroke-width="0.9"/>
<text x="241.6" y="279.6" font-size="8.4" stroke="#000" stroke-width="0.25" text-anchor="end">1.0</text>
<line x1="244.6" y1="298.5" x2="250.3" y2="298.5" stroke="#000" stroke-width="0.9"/>
<text x="241.6" y="301.4" font-size="8.4" stroke="#000" stroke-width="0.25" text-anchor="end">0.5</text>
<line x1="244.6" y1="320.4" x2="250.3" y2="320.4" stroke="#000" stroke-width="0.9"/>
<text x="241.6" y="323.3" font-size="8.4" stroke="#000" stroke-width="0.25" text-anchor="end">0.0</text>
<line x1="244.6" y1="342.3" x2="250.3" y2="342.3" stroke="#000" stroke-width="0.9"/>
<text x="241.6" y="345.2" font-size="8.4" stroke="#000" stroke-width="0.25" text-anchor="end">-0.5</text>
<line x1="255.6" y1="362" x2="255.6" y2="368.5" stroke="#000" stroke-width="0.9"/>
<text x="255.6" y="379.7" font-size="8.6" stroke="#000" stroke-width="0.25" text-anchor="middle">-400</text>
<line x1="288.2" y1="362" x2="288.2" y2="368.5" stroke="#000" stroke-width="0.9"/>
<text x="288.2" y="379.7" font-size="8.6" stroke="#000" stroke-width="0.25" text-anchor="middle">-200</text>
<line x1="321" y1="362" x2="321" y2="368.5" stroke="#000" stroke-width="0.9"/>
<text x="321" y="379.7" font-size="8.6" stroke="#000" stroke-width="0.25" text-anchor="middle">0</text>
<line x1="353.5" y1="362" x2="353.5" y2="368.5" stroke="#000" stroke-width="0.9"/>
<text x="353.5" y="379.7" font-size="8.6" stroke="#000" stroke-width="0.25" text-anchor="middle">200</text>
<line x1="385.8" y1="362" x2="385.8" y2="368.5" stroke="#000" stroke-width="0.9"/>
<text x="385.8" y="379.7" font-size="8.6" stroke="#000" stroke-width="0.25" text-anchor="middle">400</text>
<text transform="translate(224.8,334.2) rotate(-90)" font-size="11.4">k<tspan font-size="9" dy="0.8">x</tspan><tspan dy="-0.8">(Å</tspan><tspan font-size="7.2" dy="-4">-1</tspan><tspan dy="4">)</tspan></text>
<text x="293.7" y="395.6" font-size="10.8" stroke="#000" stroke-width="0.2">delay time&#160; (fs)</text>
</svg></body></html>
